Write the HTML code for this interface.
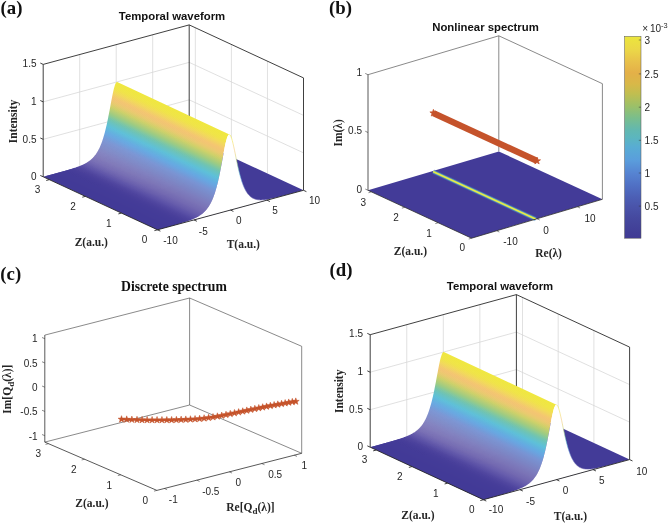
<!DOCTYPE html>
<html><head><meta charset="utf-8"><title>figure</title>
<style>html,body{margin:0;padding:0;background:#fff;}svg{display:block;opacity:0.999;}</style></head>
<body>
<svg width="668" height="523" viewBox="0 0 668 523"><defs><linearGradient id="g1" gradientUnits="userSpaceOnUse" x1="-59.91" y1="128.13" x2="-10.46" y2="22.37"><stop offset="0.0000" stop-color="#423a97"/><stop offset="0.0042" stop-color="#423a97"/><stop offset="0.0084" stop-color="#423a97"/><stop offset="0.0126" stop-color="#423a97"/><stop offset="0.0168" stop-color="#423a97"/><stop offset="0.0209" stop-color="#423a97"/><stop offset="0.0251" stop-color="#423a97"/><stop offset="0.0293" stop-color="#423a97"/><stop offset="0.0335" stop-color="#423a97"/><stop offset="0.0377" stop-color="#423a97"/><stop offset="0.0419" stop-color="#423a97"/><stop offset="0.0461" stop-color="#423a97"/><stop offset="0.0503" stop-color="#423a97"/><stop offset="0.0545" stop-color="#423a97"/><stop offset="0.0587" stop-color="#423a97"/><stop offset="0.0629" stop-color="#423a97"/><stop offset="0.0672" stop-color="#433a97"/><stop offset="0.0714" stop-color="#433a97"/><stop offset="0.0756" stop-color="#433b97"/><stop offset="0.0798" stop-color="#433b97"/><stop offset="0.0840" stop-color="#433b97"/><stop offset="0.0883" stop-color="#433b97"/><stop offset="0.0925" stop-color="#433b98"/><stop offset="0.0967" stop-color="#433b98"/><stop offset="0.1010" stop-color="#433b98"/><stop offset="0.1053" stop-color="#433b98"/><stop offset="0.1095" stop-color="#433b98"/><stop offset="0.1138" stop-color="#443b98"/><stop offset="0.1181" stop-color="#443b98"/><stop offset="0.1224" stop-color="#443c98"/><stop offset="0.1267" stop-color="#443c98"/><stop offset="0.1310" stop-color="#443c98"/><stop offset="0.1353" stop-color="#453c98"/><stop offset="0.1397" stop-color="#453c99"/><stop offset="0.1440" stop-color="#453c99"/><stop offset="0.1484" stop-color="#463d99"/><stop offset="0.1528" stop-color="#463d99"/><stop offset="0.1573" stop-color="#473e99"/><stop offset="0.1617" stop-color="#473e9a"/><stop offset="0.1662" stop-color="#483f9a"/><stop offset="0.1707" stop-color="#493f9b"/><stop offset="0.1753" stop-color="#4a409b"/><stop offset="0.1799" stop-color="#4b419c"/><stop offset="0.1845" stop-color="#4c429c"/><stop offset="0.1892" stop-color="#4d439d"/><stop offset="0.1940" stop-color="#4e449e"/><stop offset="0.1988" stop-color="#4f459f"/><stop offset="0.2036" stop-color="#5147a0"/><stop offset="0.2086" stop-color="#5248a1"/><stop offset="0.2136" stop-color="#544aa2"/><stop offset="0.2187" stop-color="#564ca3"/><stop offset="0.2239" stop-color="#584ea5"/><stop offset="0.2292" stop-color="#5a50a6"/><stop offset="0.2346" stop-color="#5c52a7"/><stop offset="0.2402" stop-color="#5e54a8"/><stop offset="0.2459" stop-color="#6056a9"/><stop offset="0.2517" stop-color="#6258aa"/><stop offset="0.2578" stop-color="#655bab"/><stop offset="0.2640" stop-color="#675dac"/><stop offset="0.2704" stop-color="#695fad"/><stop offset="0.2771" stop-color="#6b61ae"/><stop offset="0.2841" stop-color="#6d63af"/><stop offset="0.2913" stop-color="#6f65b0"/><stop offset="0.2989" stop-color="#7268b1"/><stop offset="0.3068" stop-color="#736ab2"/><stop offset="0.3109" stop-color="#746bb2"/><stop offset="0.3151" stop-color="#756cb3"/><stop offset="0.3194" stop-color="#756db3"/><stop offset="0.3238" stop-color="#766eb4"/><stop offset="0.3284" stop-color="#776fb4"/><stop offset="0.3330" stop-color="#7870b5"/><stop offset="0.3378" stop-color="#7971b5"/><stop offset="0.3427" stop-color="#7a73b6"/><stop offset="0.3478" stop-color="#7a74b7"/><stop offset="0.3530" stop-color="#7b75b7"/><stop offset="0.3584" stop-color="#7b76b8"/><stop offset="0.3640" stop-color="#7b77b9"/><stop offset="0.3697" stop-color="#7c78ba"/><stop offset="0.3756" stop-color="#7c79bb"/><stop offset="0.3817" stop-color="#7c7bbc"/><stop offset="0.3880" stop-color="#7d7cbd"/><stop offset="0.3945" stop-color="#7d7dbe"/><stop offset="0.4012" stop-color="#7d7fbf"/><stop offset="0.4081" stop-color="#7c80c0"/><stop offset="0.4153" stop-color="#7c82c2"/><stop offset="0.4227" stop-color="#7c83c3"/><stop offset="0.4304" stop-color="#7b85c4"/><stop offset="0.4384" stop-color="#7b87c6"/><stop offset="0.4466" stop-color="#7b88c7"/><stop offset="0.4552" stop-color="#7a8ac9"/><stop offset="0.4640" stop-color="#7a8ccb"/><stop offset="0.4731" stop-color="#798ecd"/><stop offset="0.4826" stop-color="#798fcf"/><stop offset="0.4924" stop-color="#7992d1"/><stop offset="0.5026" stop-color="#7894d4"/><stop offset="0.5131" stop-color="#7597d6"/><stop offset="0.5239" stop-color="#719bd9"/><stop offset="0.5352" stop-color="#6e9fdc"/><stop offset="0.5468" stop-color="#6aa3df"/><stop offset="0.5589" stop-color="#67a7e1"/><stop offset="0.5713" stop-color="#64abe1"/><stop offset="0.5841" stop-color="#62b0df"/><stop offset="0.5973" stop-color="#60b5dd"/><stop offset="0.6109" stop-color="#5fbbdb"/><stop offset="0.6250" stop-color="#5ec0d8"/><stop offset="0.6394" stop-color="#62c1ce"/><stop offset="0.6542" stop-color="#67c2c4"/><stop offset="0.6693" stop-color="#6cc3b9"/><stop offset="0.6848" stop-color="#75c5ac"/><stop offset="0.7006" stop-color="#83c89d"/><stop offset="0.7167" stop-color="#93ca8d"/><stop offset="0.7330" stop-color="#a2cc7f"/><stop offset="0.7495" stop-color="#b1cd78"/><stop offset="0.7662" stop-color="#bfcf70"/><stop offset="0.7830" stop-color="#ced16a"/><stop offset="0.7998" stop-color="#dbce6c"/><stop offset="0.8166" stop-color="#e7cb6f"/><stop offset="0.8332" stop-color="#eec871"/><stop offset="0.8496" stop-color="#f2c573"/><stop offset="0.8657" stop-color="#f4c770"/><stop offset="0.8814" stop-color="#f3ce69"/><stop offset="0.8966" stop-color="#f2d561"/><stop offset="0.9111" stop-color="#f2db59"/><stop offset="0.9248" stop-color="#f1df51"/><stop offset="0.9378" stop-color="#f0e34a"/><stop offset="0.9497" stop-color="#f0e547"/><stop offset="0.9606" stop-color="#f0e645"/><stop offset="0.9703" stop-color="#f0e643"/><stop offset="0.9787" stop-color="#f0e742"/><stop offset="0.9858" stop-color="#f0e741"/><stop offset="0.9915" stop-color="#f0e841"/><stop offset="0.9958" stop-color="#f0e840"/><stop offset="1.0000" stop-color="#f0e840"/></linearGradient><linearGradient id="w1" gradientUnits="userSpaceOnUse" x1="-59.91" y1="128.13" x2="-10.46" y2="22.37"><stop offset="0.000" stop-color="#fff" stop-opacity="0.000"/><stop offset="0.010" stop-color="#fff" stop-opacity="0.000"/><stop offset="0.021" stop-color="#fff" stop-opacity="0.000"/><stop offset="0.031" stop-color="#fff" stop-opacity="0.000"/><stop offset="0.042" stop-color="#fff" stop-opacity="0.000"/><stop offset="0.052" stop-color="#fff" stop-opacity="0.000"/><stop offset="0.063" stop-color="#fff" stop-opacity="0.000"/><stop offset="0.073" stop-color="#fff" stop-opacity="0.001"/><stop offset="0.084" stop-color="#fff" stop-opacity="0.001"/><stop offset="0.095" stop-color="#fff" stop-opacity="0.001"/><stop offset="0.105" stop-color="#fff" stop-opacity="0.001"/><stop offset="0.116" stop-color="#fff" stop-opacity="0.002"/><stop offset="0.127" stop-color="#fff" stop-opacity="0.002"/><stop offset="0.138" stop-color="#fff" stop-opacity="0.003"/><stop offset="0.148" stop-color="#fff" stop-opacity="0.004"/><stop offset="0.159" stop-color="#fff" stop-opacity="0.005"/><stop offset="0.171" stop-color="#fff" stop-opacity="0.006"/><stop offset="0.182" stop-color="#fff" stop-opacity="0.008"/><stop offset="0.194" stop-color="#fff" stop-opacity="0.010"/><stop offset="0.206" stop-color="#fff" stop-opacity="0.013"/><stop offset="0.216" stop-color="#fff" stop-opacity="0.017"/><stop offset="0.227" stop-color="#fff" stop-opacity="0.021"/><stop offset="0.237" stop-color="#fff" stop-opacity="0.027"/><stop offset="0.249" stop-color="#fff" stop-opacity="0.034"/><stop offset="0.261" stop-color="#fff" stop-opacity="0.042"/><stop offset="0.274" stop-color="#fff" stop-opacity="0.051"/><stop offset="0.284" stop-color="#fff" stop-opacity="0.059"/><stop offset="0.295" stop-color="#fff" stop-opacity="0.062"/><stop offset="0.307" stop-color="#fff" stop-opacity="0.064"/><stop offset="0.319" stop-color="#fff" stop-opacity="0.067"/><stop offset="0.333" stop-color="#fff" stop-opacity="0.070"/><stop offset="0.348" stop-color="#fff" stop-opacity="0.071"/><stop offset="0.358" stop-color="#fff" stop-opacity="0.070"/><stop offset="0.370" stop-color="#fff" stop-opacity="0.069"/><stop offset="0.382" stop-color="#fff" stop-opacity="0.067"/><stop offset="0.394" stop-color="#fff" stop-opacity="0.065"/><stop offset="0.408" stop-color="#fff" stop-opacity="0.063"/><stop offset="0.423" stop-color="#fff" stop-opacity="0.061"/><stop offset="0.438" stop-color="#fff" stop-opacity="0.058"/><stop offset="0.455" stop-color="#fff" stop-opacity="0.053"/><stop offset="0.473" stop-color="#fff" stop-opacity="0.047"/><stop offset="0.492" stop-color="#fff" stop-opacity="0.041"/><stop offset="0.503" stop-color="#fff" stop-opacity="0.037"/><stop offset="0.513" stop-color="#fff" stop-opacity="0.033"/><stop offset="0.524" stop-color="#fff" stop-opacity="0.030"/><stop offset="0.535" stop-color="#fff" stop-opacity="0.027"/><stop offset="0.547" stop-color="#fff" stop-opacity="0.025"/><stop offset="0.559" stop-color="#fff" stop-opacity="0.022"/><stop offset="0.571" stop-color="#fff" stop-opacity="0.020"/><stop offset="0.584" stop-color="#fff" stop-opacity="0.018"/><stop offset="0.597" stop-color="#fff" stop-opacity="0.016"/><stop offset="0.611" stop-color="#fff" stop-opacity="0.015"/><stop offset="0.625" stop-color="#fff" stop-opacity="0.014"/><stop offset="0.639" stop-color="#fff" stop-opacity="0.013"/><stop offset="0.654" stop-color="#fff" stop-opacity="0.012"/><stop offset="0.669" stop-color="#fff" stop-opacity="0.011"/><stop offset="0.685" stop-color="#fff" stop-opacity="0.010"/><stop offset="0.701" stop-color="#fff" stop-opacity="0.010"/><stop offset="0.717" stop-color="#fff" stop-opacity="0.009"/><stop offset="0.733" stop-color="#fff" stop-opacity="0.008"/><stop offset="0.750" stop-color="#fff" stop-opacity="0.008"/><stop offset="0.766" stop-color="#fff" stop-opacity="0.007"/><stop offset="0.783" stop-color="#fff" stop-opacity="0.006"/><stop offset="0.800" stop-color="#fff" stop-opacity="0.006"/><stop offset="0.817" stop-color="#fff" stop-opacity="0.006"/><stop offset="0.833" stop-color="#fff" stop-opacity="0.006"/><stop offset="0.850" stop-color="#fff" stop-opacity="0.006"/><stop offset="0.866" stop-color="#fff" stop-opacity="0.006"/><stop offset="0.881" stop-color="#fff" stop-opacity="0.006"/><stop offset="0.897" stop-color="#fff" stop-opacity="0.006"/><stop offset="0.911" stop-color="#fff" stop-opacity="0.006"/><stop offset="0.925" stop-color="#fff" stop-opacity="0.006"/><stop offset="0.938" stop-color="#fff" stop-opacity="0.006"/><stop offset="0.950" stop-color="#fff" stop-opacity="0.006"/><stop offset="0.961" stop-color="#fff" stop-opacity="0.006"/><stop offset="0.979" stop-color="#fff" stop-opacity="0.006"/><stop offset="0.992" stop-color="#fff" stop-opacity="0.006"/><stop offset="1.000" stop-color="#fff" stop-opacity="0.006"/></linearGradient><linearGradient id="mz1" gradientUnits="userSpaceOnUse" x1="150.71" y1="204.72" x2="134.01" y2="142.99"><stop offset="0" stop-color="#000"/><stop offset="1" stop-color="#fff"/></linearGradient><mask id="mk1" maskUnits="userSpaceOnUse" x="0" y="0" width="668" height="523"><rect x="0" y="0" width="668" height="523" fill="url(#mz1)"/></mask><linearGradient id="g2" gradientUnits="userSpaceOnUse" x1="-105.02" y1="224.82" x2="-55.52" y2="118.85"><stop offset="0.0000" stop-color="#423a97"/><stop offset="0.0042" stop-color="#423a97"/><stop offset="0.0084" stop-color="#423a97"/><stop offset="0.0126" stop-color="#423a97"/><stop offset="0.0168" stop-color="#423a97"/><stop offset="0.0210" stop-color="#423a97"/><stop offset="0.0252" stop-color="#423a97"/><stop offset="0.0294" stop-color="#423a97"/><stop offset="0.0337" stop-color="#423a97"/><stop offset="0.0379" stop-color="#423a97"/><stop offset="0.0421" stop-color="#423a97"/><stop offset="0.0463" stop-color="#423a97"/><stop offset="0.0505" stop-color="#423a97"/><stop offset="0.0547" stop-color="#423a97"/><stop offset="0.0589" stop-color="#423a97"/><stop offset="0.0632" stop-color="#423a97"/><stop offset="0.0674" stop-color="#423a97"/><stop offset="0.0716" stop-color="#433a97"/><stop offset="0.0758" stop-color="#433a97"/><stop offset="0.0801" stop-color="#433a97"/><stop offset="0.0843" stop-color="#433b97"/><stop offset="0.0886" stop-color="#433b97"/><stop offset="0.0928" stop-color="#433b97"/><stop offset="0.0971" stop-color="#433b97"/><stop offset="0.1013" stop-color="#433b98"/><stop offset="0.1056" stop-color="#433b98"/><stop offset="0.1098" stop-color="#433b98"/><stop offset="0.1141" stop-color="#433b98"/><stop offset="0.1184" stop-color="#443b98"/><stop offset="0.1227" stop-color="#443b98"/><stop offset="0.1270" stop-color="#443b98"/><stop offset="0.1313" stop-color="#443c98"/><stop offset="0.1356" stop-color="#443c98"/><stop offset="0.1400" stop-color="#453c98"/><stop offset="0.1443" stop-color="#453c98"/><stop offset="0.1487" stop-color="#453c99"/><stop offset="0.1531" stop-color="#453d99"/><stop offset="0.1575" stop-color="#463d99"/><stop offset="0.1620" stop-color="#463d99"/><stop offset="0.1664" stop-color="#473e9a"/><stop offset="0.1709" stop-color="#483e9a"/><stop offset="0.1754" stop-color="#483f9a"/><stop offset="0.1800" stop-color="#49409b"/><stop offset="0.1846" stop-color="#4a419c"/><stop offset="0.1892" stop-color="#4b419c"/><stop offset="0.1939" stop-color="#4c429d"/><stop offset="0.1986" stop-color="#4d439e"/><stop offset="0.2034" stop-color="#4f459e"/><stop offset="0.2082" stop-color="#50469f"/><stop offset="0.2131" stop-color="#5147a0"/><stop offset="0.2181" stop-color="#5349a1"/><stop offset="0.2231" stop-color="#554ba3"/><stop offset="0.2283" stop-color="#574da4"/><stop offset="0.2336" stop-color="#594fa5"/><stop offset="0.2389" stop-color="#5b51a6"/><stop offset="0.2444" stop-color="#5d53a7"/><stop offset="0.2500" stop-color="#5f55a8"/><stop offset="0.2558" stop-color="#6157a9"/><stop offset="0.2618" stop-color="#6359ab"/><stop offset="0.2679" stop-color="#665cac"/><stop offset="0.2742" stop-color="#685ead"/><stop offset="0.2807" stop-color="#6a60ae"/><stop offset="0.2875" stop-color="#6c62ae"/><stop offset="0.2946" stop-color="#6e64af"/><stop offset="0.3020" stop-color="#7167b0"/><stop offset="0.3097" stop-color="#7369b1"/><stop offset="0.3177" stop-color="#746bb2"/><stop offset="0.3219" stop-color="#756cb3"/><stop offset="0.3262" stop-color="#756db3"/><stop offset="0.3306" stop-color="#766eb4"/><stop offset="0.3351" stop-color="#776fb4"/><stop offset="0.3398" stop-color="#7870b5"/><stop offset="0.3445" stop-color="#7971b5"/><stop offset="0.3494" stop-color="#7a73b6"/><stop offset="0.3545" stop-color="#7a74b7"/><stop offset="0.3597" stop-color="#7b75b7"/><stop offset="0.3650" stop-color="#7b76b8"/><stop offset="0.3705" stop-color="#7b77b9"/><stop offset="0.3762" stop-color="#7c78ba"/><stop offset="0.3821" stop-color="#7c79bb"/><stop offset="0.3881" stop-color="#7c7bbc"/><stop offset="0.3943" stop-color="#7d7cbd"/><stop offset="0.4008" stop-color="#7d7dbe"/><stop offset="0.4074" stop-color="#7d7fbf"/><stop offset="0.4143" stop-color="#7c80c0"/><stop offset="0.4215" stop-color="#7c82c2"/><stop offset="0.4288" stop-color="#7c83c3"/><stop offset="0.4364" stop-color="#7b85c4"/><stop offset="0.4443" stop-color="#7b87c6"/><stop offset="0.4525" stop-color="#7b88c7"/><stop offset="0.4609" stop-color="#7a8ac9"/><stop offset="0.4697" stop-color="#7a8ccb"/><stop offset="0.4787" stop-color="#798ecd"/><stop offset="0.4881" stop-color="#798fcf"/><stop offset="0.4978" stop-color="#7992d1"/><stop offset="0.5079" stop-color="#7894d4"/><stop offset="0.5183" stop-color="#7597d6"/><stop offset="0.5291" stop-color="#719bd9"/><stop offset="0.5402" stop-color="#6e9fdc"/><stop offset="0.5517" stop-color="#6aa3df"/><stop offset="0.5636" stop-color="#67a7e1"/><stop offset="0.5759" stop-color="#64abe1"/><stop offset="0.5886" stop-color="#62b0df"/><stop offset="0.6017" stop-color="#60b5dd"/><stop offset="0.6151" stop-color="#5fbbdb"/><stop offset="0.6290" stop-color="#5ec0d8"/><stop offset="0.6432" stop-color="#62c1ce"/><stop offset="0.6579" stop-color="#67c2c4"/><stop offset="0.6728" stop-color="#6cc3b9"/><stop offset="0.6881" stop-color="#75c5ac"/><stop offset="0.7038" stop-color="#83c89d"/><stop offset="0.7197" stop-color="#93ca8d"/><stop offset="0.7358" stop-color="#a2cc7f"/><stop offset="0.7522" stop-color="#b1cd78"/><stop offset="0.7687" stop-color="#bfcf70"/><stop offset="0.7853" stop-color="#ced16a"/><stop offset="0.8019" stop-color="#dbce6c"/><stop offset="0.8185" stop-color="#e7cb6f"/><stop offset="0.8349" stop-color="#eec871"/><stop offset="0.8511" stop-color="#f2c573"/><stop offset="0.8670" stop-color="#f4c770"/><stop offset="0.8825" stop-color="#f3ce69"/><stop offset="0.8975" stop-color="#f2d561"/><stop offset="0.9119" stop-color="#f2db59"/><stop offset="0.9255" stop-color="#f1df51"/><stop offset="0.9383" stop-color="#f0e34a"/><stop offset="0.9501" stop-color="#f0e547"/><stop offset="0.9608" stop-color="#f0e645"/><stop offset="0.9704" stop-color="#f0e643"/><stop offset="0.9788" stop-color="#f0e742"/><stop offset="0.9859" stop-color="#f0e741"/><stop offset="0.9915" stop-color="#f0e841"/><stop offset="0.9958" stop-color="#f0e840"/><stop offset="1.0000" stop-color="#f0e840"/></linearGradient><linearGradient id="w2" gradientUnits="userSpaceOnUse" x1="-105.02" y1="224.82" x2="-55.52" y2="118.85"><stop offset="0.000" stop-color="#fff" stop-opacity="0.000"/><stop offset="0.011" stop-color="#fff" stop-opacity="0.000"/><stop offset="0.021" stop-color="#fff" stop-opacity="0.000"/><stop offset="0.032" stop-color="#fff" stop-opacity="0.000"/><stop offset="0.042" stop-color="#fff" stop-opacity="0.000"/><stop offset="0.053" stop-color="#fff" stop-opacity="0.000"/><stop offset="0.063" stop-color="#fff" stop-opacity="0.000"/><stop offset="0.074" stop-color="#fff" stop-opacity="0.001"/><stop offset="0.084" stop-color="#fff" stop-opacity="0.001"/><stop offset="0.095" stop-color="#fff" stop-opacity="0.001"/><stop offset="0.106" stop-color="#fff" stop-opacity="0.001"/><stop offset="0.116" stop-color="#fff" stop-opacity="0.001"/><stop offset="0.127" stop-color="#fff" stop-opacity="0.002"/><stop offset="0.138" stop-color="#fff" stop-opacity="0.002"/><stop offset="0.149" stop-color="#fff" stop-opacity="0.003"/><stop offset="0.160" stop-color="#fff" stop-opacity="0.004"/><stop offset="0.171" stop-color="#fff" stop-opacity="0.005"/><stop offset="0.182" stop-color="#fff" stop-opacity="0.007"/><stop offset="0.194" stop-color="#fff" stop-opacity="0.009"/><stop offset="0.206" stop-color="#fff" stop-opacity="0.011"/><stop offset="0.218" stop-color="#fff" stop-opacity="0.015"/><stop offset="0.228" stop-color="#fff" stop-opacity="0.019"/><stop offset="0.239" stop-color="#fff" stop-opacity="0.024"/><stop offset="0.250" stop-color="#fff" stop-opacity="0.030"/><stop offset="0.262" stop-color="#fff" stop-opacity="0.038"/><stop offset="0.274" stop-color="#fff" stop-opacity="0.046"/><stop offset="0.288" stop-color="#fff" stop-opacity="0.056"/><stop offset="0.298" stop-color="#fff" stop-opacity="0.061"/><stop offset="0.310" stop-color="#fff" stop-opacity="0.063"/><stop offset="0.322" stop-color="#fff" stop-opacity="0.066"/><stop offset="0.335" stop-color="#fff" stop-opacity="0.069"/><stop offset="0.349" stop-color="#fff" stop-opacity="0.072"/><stop offset="0.360" stop-color="#fff" stop-opacity="0.071"/><stop offset="0.371" stop-color="#fff" stop-opacity="0.069"/><stop offset="0.382" stop-color="#fff" stop-opacity="0.068"/><stop offset="0.394" stop-color="#fff" stop-opacity="0.066"/><stop offset="0.407" stop-color="#fff" stop-opacity="0.064"/><stop offset="0.421" stop-color="#fff" stop-opacity="0.062"/><stop offset="0.436" stop-color="#fff" stop-opacity="0.060"/><stop offset="0.452" stop-color="#fff" stop-opacity="0.055"/><stop offset="0.470" stop-color="#fff" stop-opacity="0.050"/><stop offset="0.488" stop-color="#fff" stop-opacity="0.044"/><stop offset="0.508" stop-color="#fff" stop-opacity="0.037"/><stop offset="0.518" stop-color="#fff" stop-opacity="0.033"/><stop offset="0.529" stop-color="#fff" stop-opacity="0.030"/><stop offset="0.540" stop-color="#fff" stop-opacity="0.027"/><stop offset="0.552" stop-color="#fff" stop-opacity="0.025"/><stop offset="0.564" stop-color="#fff" stop-opacity="0.022"/><stop offset="0.576" stop-color="#fff" stop-opacity="0.020"/><stop offset="0.589" stop-color="#fff" stop-opacity="0.018"/><stop offset="0.602" stop-color="#fff" stop-opacity="0.016"/><stop offset="0.615" stop-color="#fff" stop-opacity="0.015"/><stop offset="0.629" stop-color="#fff" stop-opacity="0.014"/><stop offset="0.643" stop-color="#fff" stop-opacity="0.013"/><stop offset="0.658" stop-color="#fff" stop-opacity="0.012"/><stop offset="0.673" stop-color="#fff" stop-opacity="0.011"/><stop offset="0.688" stop-color="#fff" stop-opacity="0.010"/><stop offset="0.704" stop-color="#fff" stop-opacity="0.010"/><stop offset="0.720" stop-color="#fff" stop-opacity="0.009"/><stop offset="0.736" stop-color="#fff" stop-opacity="0.008"/><stop offset="0.752" stop-color="#fff" stop-opacity="0.008"/><stop offset="0.769" stop-color="#fff" stop-opacity="0.007"/><stop offset="0.785" stop-color="#fff" stop-opacity="0.006"/><stop offset="0.802" stop-color="#fff" stop-opacity="0.006"/><stop offset="0.818" stop-color="#fff" stop-opacity="0.006"/><stop offset="0.835" stop-color="#fff" stop-opacity="0.006"/><stop offset="0.851" stop-color="#fff" stop-opacity="0.006"/><stop offset="0.867" stop-color="#fff" stop-opacity="0.006"/><stop offset="0.883" stop-color="#fff" stop-opacity="0.006"/><stop offset="0.898" stop-color="#fff" stop-opacity="0.006"/><stop offset="0.912" stop-color="#fff" stop-opacity="0.006"/><stop offset="0.925" stop-color="#fff" stop-opacity="0.006"/><stop offset="0.938" stop-color="#fff" stop-opacity="0.006"/><stop offset="0.950" stop-color="#fff" stop-opacity="0.006"/><stop offset="0.961" stop-color="#fff" stop-opacity="0.006"/><stop offset="0.979" stop-color="#fff" stop-opacity="0.006"/><stop offset="0.992" stop-color="#fff" stop-opacity="0.006"/><stop offset="1.000" stop-color="#fff" stop-opacity="0.006"/></linearGradient><linearGradient id="mz2" gradientUnits="userSpaceOnUse" x1="476.49" y1="474.52" x2="459.44" y2="412.35"><stop offset="0" stop-color="#000"/><stop offset="1" stop-color="#fff"/></linearGradient><mask id="mk2" maskUnits="userSpaceOnUse" x="0" y="0" width="668" height="523"><rect x="0" y="0" width="668" height="523" fill="url(#mz2)"/></mask><linearGradient id="cb" x1="0" y1="0" x2="0" y2="1"><stop offset="0.000" stop-color="#ece63c"/><stop offset="0.070" stop-color="#ebd648"/><stop offset="0.127" stop-color="#e8c04a"/><stop offset="0.180" stop-color="#e4b048"/><stop offset="0.236" stop-color="#d8b848"/><stop offset="0.285" stop-color="#c0be50"/><stop offset="0.345" stop-color="#9cc068"/><stop offset="0.404" stop-color="#7abe8c"/><stop offset="0.464" stop-color="#62b8b0"/><stop offset="0.500" stop-color="#5cb6be"/><stop offset="0.550" stop-color="#58acd4"/><stop offset="0.612" stop-color="#5a9edc"/><stop offset="0.677" stop-color="#5684d2"/><stop offset="0.739" stop-color="#5070c4"/><stop offset="0.800" stop-color="#4c5eb4"/><stop offset="0.843" stop-color="#4a54aa"/><stop offset="0.905" stop-color="#45489e"/><stop offset="0.970" stop-color="#413e96"/><stop offset="1.000" stop-color="#403a94"/></linearGradient></defs><rect x="0" y="0" width="668" height="523" fill="#ffffff"/>
<line x1="79.7" y1="166.93" x2="79.7" y2="54.53" stroke="#d6d6d6" stroke-width="0.75"/>
<line x1="116.2" y1="157.05" x2="116.2" y2="44.65" stroke="#d6d6d6" stroke-width="0.75"/>
<line x1="152.7" y1="147.18" x2="152.7" y2="34.78" stroke="#d6d6d6" stroke-width="0.75"/>
<line x1="267.44" y1="173.58" x2="267.44" y2="61.18" stroke="#d6d6d6" stroke-width="0.75"/>
<line x1="231.39" y1="156.86" x2="231.39" y2="44.46" stroke="#d6d6d6" stroke-width="0.75"/>
<line x1="195.33" y1="140.14" x2="195.33" y2="27.74" stroke="#d6d6d6" stroke-width="0.75"/>
<polyline points="43.2,139.33 189.2,99.83 303.5,152.83" fill="none" stroke="#d6d6d6" stroke-width="0.75"/>
<polyline points="43.2,101.87 189.2,62.37 303.5,115.37" fill="none" stroke="#d6d6d6" stroke-width="0.75"/>
<line x1="189.2" y1="137.3" x2="189.2" y2="24.9" stroke="#2a2a2a" stroke-width="0.9"/>
<line x1="43.2" y1="64.4" x2="189.2" y2="24.9" stroke="#2a2a2a" stroke-width="0.9"/>
<line x1="189.2" y1="24.9" x2="303.5" y2="77.9" stroke="#2a2a2a" stroke-width="0.9"/>
<line x1="303.5" y1="190.3" x2="303.5" y2="77.9" stroke="#2a2a2a" stroke-width="0.9"/>
<polygon points="43.2,176.8 157.5,229.8 303.5,190.3 189.2,137.3" fill="#433b98"/>
<polygon points="157.5,229.79 157.87,229.69 158.23,229.59 158.59,229.49 158.96,229.39 159.32,229.3 159.69,229.2 160.06,229.1 160.42,229 160.78,228.9 161.15,228.8 161.52,228.7 161.88,228.6 162.25,228.5 162.61,228.4 162.97,228.3 163.34,228.2 163.7,228.1 164.07,228 164.44,227.9 164.8,227.8 165.16,227.7 165.53,227.6 165.9,227.5 166.26,227.4 166.62,227.3 166.99,227.2 167.35,227.1 167.72,227 168.09,226.9 168.45,226.8 168.81,226.7 169.18,226.6 169.55,226.5 169.91,226.4 170.28,226.3 170.64,226.19 171,226.09 171.37,225.99 171.73,225.89 172.1,225.79 172.47,225.69 172.83,225.58 173.19,225.48 173.56,225.38 173.92,225.28 174.29,225.17 174.66,225.07 175.02,224.97 175.38,224.86 175.75,224.76 176.11,224.66 176.48,224.55 176.84,224.45 177.21,224.34 177.57,224.24 177.94,224.13 178.3,224.03 178.67,223.92 179.03,223.81 179.4,223.71 179.76,223.6 180.13,223.49 180.5,223.38 180.86,223.27 181.22,223.16 181.59,223.05 181.95,222.94 182.32,222.83 182.69,222.72 183.05,222.61 183.41,222.5 183.78,222.38 184.14,222.27 184.51,222.15 184.88,222.04 185.24,221.92 185.6,221.8 185.97,221.68 186.33,221.56 186.7,221.44 187.06,221.32 187.43,221.19 187.79,221.07 188.16,220.94 188.53,220.82 188.89,220.69 189.25,220.56 189.62,220.42 189.99,220.29 190.35,220.15 190.72,220.02 191.08,219.88 191.44,219.74 191.81,219.59 192.18,219.45 192.54,219.3 192.91,219.15 193.27,218.99 193.63,218.84 194,218.68 194.37,218.51 194.73,218.35 195.09,218.18 195.46,218 195.82,217.83 196.19,217.65 196.56,217.46 196.92,217.27 197.28,217.08 197.65,216.88 198.01,216.67 198.38,216.46 198.75,216.25 199.11,216.03 199.47,215.8 199.84,215.57 200.2,215.32 200.57,215.08 200.94,214.82 201.3,214.56 201.66,214.28 202.03,214 202.39,213.71 202.76,213.41 203.12,213.1 203.49,212.78 203.85,212.44 204.22,212.1 204.58,211.74 204.95,211.37 205.31,210.99 205.68,210.59 206.04,210.17 206.41,209.74 206.78,209.3 207.14,208.83 207.5,208.35 207.87,207.84 208.24,207.32 208.6,206.78 208.96,206.21 209.33,205.62 209.69,205.01 210.06,204.37 210.42,203.7 210.79,203 211.16,202.28 211.52,201.53 211.88,200.74 212.25,199.92 212.62,199.06 212.98,198.17 213.34,197.24 213.71,196.28 214.07,195.27 214.44,194.22 214.81,193.13 215.17,191.99 215.53,190.8 215.9,189.57 216.26,188.29 216.63,186.96 217,185.58 217.36,184.15 217.72,182.67 218.09,181.14 218.45,179.55 218.82,177.92 219.19,176.23 219.55,174.5 219.92,172.72 220.28,170.89 220.64,169.03 221.01,167.12 221.38,165.19 221.74,163.23 222.11,161.25 222.47,159.25 222.83,157.26 223.2,155.27 223.56,153.3 223.93,151.35 224.3,149.45 224.66,147.6 225.03,145.82 225.39,144.12 225.75,142.51 226.12,141.02 226.49,139.65 226.85,138.42 227.22,137.34 227.58,136.43 227.94,135.68 228.31,135.11 228.68,134.73 229.04,134.54 229.41,134.53 117.22,82.1 116.86,82.1 116.49,82.3 116.13,82.67 115.76,83.23 115.4,83.97 115.03,84.87 114.67,85.94 114.3,87.15 113.94,88.5 113.57,89.97 113.21,91.55 112.84,93.23 112.48,94.99 112.11,96.81 111.75,98.69 111.38,100.6 111.02,102.55 110.65,104.51 110.29,106.48 109.92,108.44 109.56,110.39 109.19,112.33 108.83,114.23 108.46,116.11 108.1,117.95 107.73,119.75 107.37,121.5 107,123.21 106.64,124.88 106.27,126.49 105.91,128.05 105.54,129.56 105.18,131.02 104.81,132.43 104.45,133.79 104.08,135.1 103.72,136.37 103.35,137.58 102.99,138.75 102.62,139.87 102.26,140.95 101.89,141.98 101.53,142.98 101.16,143.93 100.8,144.85 100.43,145.73 100.07,146.57 99.7,147.38 99.34,148.16 98.97,148.9 98.61,149.62 98.24,150.3 97.88,150.96 97.51,151.59 97.15,152.2 96.78,152.78 96.42,153.34 96.05,153.88 95.69,154.4 95.32,154.89 94.96,155.37 94.59,155.83 94.23,156.27 93.86,156.7 93.5,157.11 93.13,157.5 92.77,157.88 92.4,158.25 92.04,158.6 91.67,158.94 91.31,159.27 90.94,159.59 90.58,159.9 90.21,160.2 89.85,160.48 89.48,160.76 89.12,161.03 88.75,161.3 88.39,161.55 88.02,161.8 87.66,162.03 87.29,162.27 86.93,162.49 86.56,162.71 86.2,162.93 85.83,163.13 85.47,163.34 85.1,163.53 84.74,163.73 84.37,163.91 84.01,164.1 83.64,164.28 83.28,164.45 82.91,164.63 82.55,164.79 82.18,164.96 81.82,165.12 81.45,165.28 81.09,165.44 80.72,165.59 80.36,165.74 79.99,165.89 79.63,166.03 79.26,166.18 78.9,166.32 78.53,166.46 78.17,166.59 77.8,166.73 77.44,166.86 77.07,166.99 76.71,167.12 76.34,167.25 75.98,167.38 75.61,167.51 75.25,167.63 74.88,167.75 74.52,167.87 74.15,168 73.79,168.12 73.42,168.23 73.06,168.35 72.69,168.47 72.33,168.58 71.96,168.7 71.6,168.81 71.23,168.93 70.87,169.04 70.5,169.15 70.14,169.26 69.77,169.37 69.41,169.48 69.04,169.59 68.68,169.7 68.31,169.81 67.95,169.92 67.58,170.03 67.22,170.14 66.85,170.24 66.49,170.35 66.12,170.46 65.76,170.56 65.39,170.67 65.03,170.77 64.66,170.88 64.3,170.98 63.93,171.08 63.57,171.19 63.2,171.29 62.84,171.4 62.47,171.5 62.11,171.6 61.74,171.7 61.38,171.81 61.01,171.91 60.65,172.01 60.28,172.11 59.92,172.22 59.55,172.32 59.19,172.42 58.82,172.52 58.46,172.62 58.09,172.72 57.73,172.82 57.36,172.93 57,173.03 56.63,173.13 56.27,173.23 55.9,173.33 55.54,173.43 55.17,173.53 54.81,173.63 54.44,173.73 54.08,173.83 53.71,173.93 53.35,174.03 52.98,174.13 52.62,174.23 52.25,174.33 51.89,174.43 51.52,174.53 51.16,174.63 50.79,174.73 50.43,174.83 50.06,174.93 49.7,175.03 49.33,175.13 48.97,175.23 48.6,175.33 48.24,175.42 47.87,175.52 47.51,175.62 47.14,175.72 46.78,175.82 46.41,175.92 46.05,176.02 45.68,176.12 45.32,176.22" fill="url(#g1)"/>
<polygon points="157.5,229.79 157.87,229.69 158.23,229.59 158.59,229.49 158.96,229.39 159.32,229.3 159.69,229.2 160.06,229.1 160.42,229 160.78,228.9 161.15,228.8 161.52,228.7 161.88,228.6 162.25,228.5 162.61,228.4 162.97,228.3 163.34,228.2 163.7,228.1 164.07,228 164.44,227.9 164.8,227.8 165.16,227.7 165.53,227.6 165.9,227.5 166.26,227.4 166.62,227.3 166.99,227.2 167.35,227.1 167.72,227 168.09,226.9 168.45,226.8 168.81,226.7 169.18,226.6 169.55,226.5 169.91,226.4 170.28,226.3 170.64,226.19 171,226.09 171.37,225.99 171.73,225.89 172.1,225.79 172.47,225.69 172.83,225.58 173.19,225.48 173.56,225.38 173.92,225.28 174.29,225.17 174.66,225.07 175.02,224.97 175.38,224.86 175.75,224.76 176.11,224.66 176.48,224.55 176.84,224.45 177.21,224.34 177.57,224.24 177.94,224.13 178.3,224.03 178.67,223.92 179.03,223.81 179.4,223.71 179.76,223.6 180.13,223.49 180.5,223.38 180.86,223.27 181.22,223.16 181.59,223.05 181.95,222.94 182.32,222.83 182.69,222.72 183.05,222.61 183.41,222.5 183.78,222.38 184.14,222.27 184.51,222.15 184.88,222.04 185.24,221.92 185.6,221.8 185.97,221.68 186.33,221.56 186.7,221.44 187.06,221.32 187.43,221.19 187.79,221.07 188.16,220.94 188.53,220.82 188.89,220.69 189.25,220.56 189.62,220.42 189.99,220.29 190.35,220.15 190.72,220.02 191.08,219.88 191.44,219.74 191.81,219.59 192.18,219.45 192.54,219.3 192.91,219.15 193.27,218.99 193.63,218.84 194,218.68 194.37,218.51 194.73,218.35 195.09,218.18 195.46,218 195.82,217.83 196.19,217.65 196.56,217.46 196.92,217.27 197.28,217.08 197.65,216.88 198.01,216.67 198.38,216.46 198.75,216.25 199.11,216.03 199.47,215.8 199.84,215.57 200.2,215.32 200.57,215.08 200.94,214.82 201.3,214.56 201.66,214.28 202.03,214 202.39,213.71 202.76,213.41 203.12,213.1 203.49,212.78 203.85,212.44 204.22,212.1 204.58,211.74 204.95,211.37 205.31,210.99 205.68,210.59 206.04,210.17 206.41,209.74 206.78,209.3 207.14,208.83 207.5,208.35 207.87,207.84 208.24,207.32 208.6,206.78 208.96,206.21 209.33,205.62 209.69,205.01 210.06,204.37 210.42,203.7 210.79,203 211.16,202.28 211.52,201.53 211.88,200.74 212.25,199.92 212.62,199.06 212.98,198.17 213.34,197.24 213.71,196.28 214.07,195.27 214.44,194.22 214.81,193.13 215.17,191.99 215.53,190.8 215.9,189.57 216.26,188.29 216.63,186.96 217,185.58 217.36,184.15 217.72,182.67 218.09,181.14 218.45,179.55 218.82,177.92 219.19,176.23 219.55,174.5 219.92,172.72 220.28,170.89 220.64,169.03 221.01,167.12 221.38,165.19 221.74,163.23 222.11,161.25 222.47,159.25 222.83,157.26 223.2,155.27 223.56,153.3 223.93,151.35 224.3,149.45 224.66,147.6 225.03,145.82 225.39,144.12 225.75,142.51 226.12,141.02 226.49,139.65 226.85,138.42 227.22,137.34 227.58,136.43 227.94,135.68 228.31,135.11 228.68,134.73 229.04,134.54 229.41,134.53 117.22,82.1 116.86,82.1 116.49,82.3 116.13,82.67 115.76,83.23 115.4,83.97 115.03,84.87 114.67,85.94 114.3,87.15 113.94,88.5 113.57,89.97 113.21,91.55 112.84,93.23 112.48,94.99 112.11,96.81 111.75,98.69 111.38,100.6 111.02,102.55 110.65,104.51 110.29,106.48 109.92,108.44 109.56,110.39 109.19,112.33 108.83,114.23 108.46,116.11 108.1,117.95 107.73,119.75 107.37,121.5 107,123.21 106.64,124.88 106.27,126.49 105.91,128.05 105.54,129.56 105.18,131.02 104.81,132.43 104.45,133.79 104.08,135.1 103.72,136.37 103.35,137.58 102.99,138.75 102.62,139.87 102.26,140.95 101.89,141.98 101.53,142.98 101.16,143.93 100.8,144.85 100.43,145.73 100.07,146.57 99.7,147.38 99.34,148.16 98.97,148.9 98.61,149.62 98.24,150.3 97.88,150.96 97.51,151.59 97.15,152.2 96.78,152.78 96.42,153.34 96.05,153.88 95.69,154.4 95.32,154.89 94.96,155.37 94.59,155.83 94.23,156.27 93.86,156.7 93.5,157.11 93.13,157.5 92.77,157.88 92.4,158.25 92.04,158.6 91.67,158.94 91.31,159.27 90.94,159.59 90.58,159.9 90.21,160.2 89.85,160.48 89.48,160.76 89.12,161.03 88.75,161.3 88.39,161.55 88.02,161.8 87.66,162.03 87.29,162.27 86.93,162.49 86.56,162.71 86.2,162.93 85.83,163.13 85.47,163.34 85.1,163.53 84.74,163.73 84.37,163.91 84.01,164.1 83.64,164.28 83.28,164.45 82.91,164.63 82.55,164.79 82.18,164.96 81.82,165.12 81.45,165.28 81.09,165.44 80.72,165.59 80.36,165.74 79.99,165.89 79.63,166.03 79.26,166.18 78.9,166.32 78.53,166.46 78.17,166.59 77.8,166.73 77.44,166.86 77.07,166.99 76.71,167.12 76.34,167.25 75.98,167.38 75.61,167.51 75.25,167.63 74.88,167.75 74.52,167.87 74.15,168 73.79,168.12 73.42,168.23 73.06,168.35 72.69,168.47 72.33,168.58 71.96,168.7 71.6,168.81 71.23,168.93 70.87,169.04 70.5,169.15 70.14,169.26 69.77,169.37 69.41,169.48 69.04,169.59 68.68,169.7 68.31,169.81 67.95,169.92 67.58,170.03 67.22,170.14 66.85,170.24 66.49,170.35 66.12,170.46 65.76,170.56 65.39,170.67 65.03,170.77 64.66,170.88 64.3,170.98 63.93,171.08 63.57,171.19 63.2,171.29 62.84,171.4 62.47,171.5 62.11,171.6 61.74,171.7 61.38,171.81 61.01,171.91 60.65,172.01 60.28,172.11 59.92,172.22 59.55,172.32 59.19,172.42 58.82,172.52 58.46,172.62 58.09,172.72 57.73,172.82 57.36,172.93 57,173.03 56.63,173.13 56.27,173.23 55.9,173.33 55.54,173.43 55.17,173.53 54.81,173.63 54.44,173.73 54.08,173.83 53.71,173.93 53.35,174.03 52.98,174.13 52.62,174.23 52.25,174.33 51.89,174.43 51.52,174.53 51.16,174.63 50.79,174.73 50.43,174.83 50.06,174.93 49.7,175.03 49.33,175.13 48.97,175.23 48.6,175.33 48.24,175.42 47.87,175.52 47.51,175.62 47.14,175.72 46.78,175.82 46.41,175.92 46.05,176.02 45.68,176.12 45.32,176.22" fill="url(#w1)" mask="url(#mk1)"/>
<polygon points="157.5,229.79 157.87,229.69 158.23,229.59 158.59,229.49 158.96,229.39 159.32,229.3 159.69,229.2 160.06,229.1 160.42,229 160.78,228.9 161.15,228.8 161.52,228.7 161.88,228.6 162.25,228.5 162.61,228.4 162.97,228.3 163.34,228.2 163.7,228.1 164.07,228 164.44,227.9 164.8,227.8 165.16,227.7 165.53,227.6 165.9,227.5 166.26,227.4 166.62,227.3 166.99,227.2 167.35,227.1 167.72,227 168.09,226.9 168.45,226.8 168.81,226.7 169.18,226.6 169.55,226.5 169.91,226.4 170.28,226.3 170.64,226.19 171,226.09 171.37,225.99 171.73,225.89 172.1,225.79 172.47,225.69 172.83,225.58 173.19,225.48 173.56,225.38 173.92,225.28 174.29,225.17 174.66,225.07 175.02,224.97 175.38,224.86 175.75,224.76 176.11,224.66 176.48,224.55 176.84,224.45 177.21,224.34 177.57,224.24 177.94,224.13 178.3,224.03 178.67,223.92 179.03,223.81 179.4,223.71 179.76,223.6 180.13,223.49 180.5,223.38 180.86,223.27 181.22,223.16 181.59,223.05 181.95,222.94 182.32,222.83 182.69,222.72 183.05,222.61 183.41,222.5 183.78,222.38 184.14,222.27 184.51,222.15 184.88,222.04 185.24,221.92 185.6,221.8 185.97,221.68 186.33,221.56 186.7,221.44 187.06,221.32 187.43,221.19 187.79,221.07 188.16,220.94 188.53,220.82 188.89,220.69 189.25,220.56 189.62,220.42 189.99,220.29 190.35,220.15 190.72,220.02 191.08,219.88 191.44,219.74 191.81,219.59 192.18,219.45 192.54,219.3 192.91,219.15 193.27,218.99 193.63,218.84 194,218.68 194.37,218.51 194.73,218.35 195.09,218.18 195.46,218 195.82,217.83 196.19,217.65 196.56,217.46 196.92,217.27 197.28,217.08 197.65,216.88 198.01,216.67 198.38,216.46 198.75,216.25 199.11,216.03 199.47,215.8 199.84,215.57 200.2,215.32 200.57,215.08 200.94,214.82 201.3,214.56 201.66,214.28 202.03,214 202.39,213.71 202.76,213.41 203.12,213.1 203.49,212.78 203.85,212.44 204.22,212.1 204.58,211.74 204.95,211.37 205.31,210.99 205.68,210.59 206.04,210.17 206.41,209.74 206.78,209.3 207.14,208.83 207.5,208.35 207.87,207.84 208.24,207.32 208.6,206.78 208.96,206.21 209.33,205.62 209.69,205.01 210.06,204.37 210.42,203.7 210.79,203 211.16,202.28 211.52,201.53 211.88,200.74 212.25,199.92 212.62,199.06 212.98,198.17 213.34,197.24 213.71,196.28 214.07,195.27 214.44,194.22 214.81,193.13 215.17,191.99 215.53,190.8 215.9,189.57 216.26,188.29 216.63,186.96 217,185.58 217.36,184.15 217.72,182.67 218.09,181.14 218.45,179.55 218.82,177.92 219.19,176.23 219.55,174.5 219.92,172.72 220.28,170.89 220.64,169.03 221.01,167.12 221.38,165.19 221.74,163.23 222.11,161.25 222.47,159.25 222.83,157.26 223.2,155.27 223.56,153.3 223.93,151.35 224.3,149.45 224.66,147.6 225.03,145.82 225.39,144.12 225.75,142.51 226.12,141.02 226.49,139.65 226.85,138.42 227.22,137.34 227.58,136.43 227.94,135.68 228.31,135.11 228.68,134.73 229.04,134.54 229.41,134.53 229.77,134.72 230.13,135.09 230.5,135.64 230.87,136.36 231.23,137.24 231.6,138.27 231.96,139.44 232.32,140.74 232.69,142.14 233.06,143.64 233.42,145.23 233.78,146.88 234.15,148.59 234.52,150.33 234.88,152.11 235.25,153.9 235.61,155.7 235.97,157.49 236.34,159.28 236.7,161.04 237.07,162.78 237.44,164.48 237.8,166.15 238.16,167.78 238.53,169.36 238.89,170.9 239.26,172.39 239.62,173.83 239.99,175.21 240.36,176.55 240.72,177.83 241.09,179.07 241.45,180.25 241.81,181.38 242.18,182.46 242.55,183.5 242.91,184.48 243.28,185.42 243.64,186.32 244,187.17 244.37,187.98 244.73,188.75 245.1,189.48 245.47,190.18 245.83,190.83 246.19,191.46 246.56,192.05 246.93,192.6 247.29,193.13 247.65,193.63 248.02,194.1 248.38,194.54 248.75,194.96 249.12,195.35 249.48,195.72 249.84,196.06 250.21,196.39 250.57,196.69 250.94,196.98 251.3,197.25 251.67,197.5 252.03,197.73 252.4,197.95 252.77,198.15 253.13,198.34 253.5,198.51 253.86,198.67 254.22,198.82 254.59,198.95 254.95,199.08 255.32,199.19 255.69,199.29 256.05,199.39 256.41,199.47 256.78,199.55 257.14,199.61 257.51,199.67 257.88,199.72 258.24,199.77 258.61,199.8 258.97,199.83 259.34,199.86 259.7,199.87 260.06,199.89 260.43,199.89 260.79,199.89 261.16,199.89 261.52,199.88 261.89,199.87 262.25,199.85 262.62,199.83 262.99,199.81 263.35,199.78 263.72,199.75 264.08,199.72 264.44,199.68 264.81,199.64 265.18,199.59 265.54,199.55 265.9,199.5 266.27,199.45 266.63,199.39 267,199.34 267.37,199.28 267.73,199.22 268.1,199.16 268.46,199.09 268.82,199.03 269.19,198.96 269.55,198.89 269.92,198.82 270.28,198.75 270.65,198.68 271.01,198.61 271.38,198.53 271.75,198.45 272.11,198.38 272.48,198.3 272.84,198.22 273.2,198.14 273.57,198.06 273.94,197.97 274.3,197.89 274.66,197.81 275.03,197.72 275.39,197.64 275.76,197.55 276.12,197.47 276.49,197.38 276.86,197.29 277.22,197.2 277.59,197.11 277.95,197.03 278.31,196.94 278.68,196.85 279.04,196.76 279.41,196.66 279.77,196.57 280.14,196.48 280.5,196.39 280.87,196.3 281.24,196.2 281.6,196.11 281.97,196.02 282.33,195.92 282.69,195.83 283.06,195.74 283.43,195.64 283.79,195.55 284.15,195.45 284.52,195.36 284.88,195.26 285.25,195.17 285.62,195.07 285.98,194.98 286.35,194.88 286.71,194.79 287.07,194.69 287.44,194.59 287.81,194.5 288.17,194.4 288.53,194.3 288.9,194.21 289.26,194.11 289.63,194.01 290,193.92 290.36,193.82 290.73,193.72 291.09,193.63 291.46,193.53 291.82,193.43 292.19,193.33 292.55,193.24 292.91,193.14 293.28,193.04 293.64,192.94 294.01,192.85 294.38,192.75 294.74,192.65 295.11,192.55 295.47,192.46 295.84,192.36 296.2,192.26 296.56,192.16 296.93,192.06 297.29,191.97 297.66,191.87 298.02,191.77 298.39,191.67 298.75,191.57 299.12,191.47 299.49,191.38 299.85,191.28 300.22,191.18 300.58,191.08 300.94,190.98 301.31,190.88 301.68,190.79 302.04,190.69 302.4,190.59 302.77,190.49 303.13,190.39 303.5,190.29 303.5,190.3 157.5,229.8" fill="#ffffff"/>
<line x1="229.41" y1="134.53" x2="230.13" y2="135.09" stroke="#f0e840" stroke-width="0.7" stroke-opacity="0.8"/>
<line x1="230.13" y1="135.09" x2="230.87" y2="136.36" stroke="#f0e741" stroke-width="0.7" stroke-opacity="0.8"/>
<line x1="230.87" y1="136.36" x2="231.6" y2="138.27" stroke="#f0e643" stroke-width="0.7" stroke-opacity="0.8"/>
<line x1="231.6" y1="138.27" x2="232.32" y2="140.74" stroke="#f0e547" stroke-width="0.7" stroke-opacity="0.8"/>
<line x1="232.32" y1="140.74" x2="233.06" y2="143.64" stroke="#f1df51" stroke-width="0.7" stroke-opacity="0.8"/>
<line x1="233.06" y1="143.64" x2="233.78" y2="146.88" stroke="#f2d561" stroke-width="0.7" stroke-opacity="0.8"/>
<line x1="233.78" y1="146.88" x2="234.52" y2="150.33" stroke="#f4c770" stroke-width="0.7" stroke-opacity="0.8"/>
<line x1="234.52" y1="150.33" x2="235.25" y2="153.9" stroke="#eec871" stroke-width="0.7" stroke-opacity="0.8"/>
<line x1="235.25" y1="153.9" x2="235.97" y2="157.49" stroke="#dbce6c" stroke-width="0.7" stroke-opacity="0.8"/>
<line x1="235.97" y1="157.49" x2="236.7" y2="161.04" stroke="#bfcf70" stroke-width="0.7" stroke-opacity="0.8"/>
<line x1="236.7" y1="161.04" x2="237.44" y2="164.48" stroke="#a2cc7f" stroke-width="0.7" stroke-opacity="0.8"/>
<line x1="237.44" y1="164.48" x2="238.16" y2="167.78" stroke="#83c89d" stroke-width="0.7" stroke-opacity="0.8"/>
<line x1="238.16" y1="167.78" x2="238.89" y2="170.9" stroke="#6cc3b9" stroke-width="0.7" stroke-opacity="0.8"/>
<line x1="238.89" y1="170.9" x2="239.62" y2="173.83" stroke="#62c1ce" stroke-width="0.7" stroke-opacity="0.8"/>
<line x1="239.62" y1="173.83" x2="240.36" y2="176.55" stroke="#5fbbdb" stroke-width="0.7" stroke-opacity="0.8"/>
<line x1="240.36" y1="176.55" x2="241.09" y2="179.07" stroke="#62b0df" stroke-width="0.7" stroke-opacity="0.8"/>
<line x1="241.09" y1="179.07" x2="241.81" y2="181.38" stroke="#67a7e1" stroke-width="0.7" stroke-opacity="0.8"/>
<line x1="241.81" y1="181.38" x2="242.55" y2="183.5" stroke="#6e9fdc" stroke-width="0.7" stroke-opacity="0.8"/>
<line x1="242.55" y1="183.5" x2="243.28" y2="185.42" stroke="#7597d6" stroke-width="0.7" stroke-opacity="0.8"/>
<line x1="243.28" y1="185.42" x2="244" y2="187.17" stroke="#7992d1" stroke-width="0.7" stroke-opacity="0.8"/>
<line x1="244" y1="187.17" x2="244.73" y2="188.75" stroke="#798ecd" stroke-width="0.7" stroke-opacity="0.8"/>
<line x1="244.73" y1="188.75" x2="245.47" y2="190.18" stroke="#7a8ac9" stroke-width="0.7" stroke-opacity="0.8"/>
<line x1="245.47" y1="190.18" x2="246.19" y2="191.46" stroke="#7b87c6" stroke-width="0.7" stroke-opacity="0.8"/>
<line x1="246.19" y1="191.46" x2="246.93" y2="192.6" stroke="#7c83c3" stroke-width="0.7" stroke-opacity="0.8"/>
<line x1="246.93" y1="192.6" x2="247.65" y2="193.63" stroke="#7c80c0" stroke-width="0.7" stroke-opacity="0.8"/>
<line x1="247.65" y1="193.63" x2="248.38" y2="194.54" stroke="#7d7dbe" stroke-width="0.7" stroke-opacity="0.8"/>
<line x1="248.38" y1="194.54" x2="249.12" y2="195.35" stroke="#7c7bbc" stroke-width="0.7" stroke-opacity="0.8"/>
<line x1="249.12" y1="195.35" x2="249.84" y2="196.06" stroke="#7c78ba" stroke-width="0.7" stroke-opacity="0.8"/>
<line x1="249.84" y1="196.06" x2="250.57" y2="196.69" stroke="#7b76b8" stroke-width="0.7" stroke-opacity="0.8"/>
<line x1="250.57" y1="196.69" x2="251.3" y2="197.25" stroke="#7a74b7" stroke-width="0.7" stroke-opacity="0.8"/>
<line x1="251.3" y1="197.25" x2="252.03" y2="197.73" stroke="#7971b5" stroke-width="0.7" stroke-opacity="0.8"/>
<line x1="252.03" y1="197.73" x2="252.77" y2="198.15" stroke="#776fb4" stroke-width="0.7" stroke-opacity="0.8"/>
<line x1="252.77" y1="198.15" x2="253.5" y2="198.51" stroke="#756db3" stroke-width="0.7" stroke-opacity="0.8"/>
<line x1="253.5" y1="198.51" x2="254.22" y2="198.82" stroke="#746bb2" stroke-width="0.7" stroke-opacity="0.8"/>
<line x1="254.22" y1="198.82" x2="254.95" y2="199.08" stroke="#7369b1" stroke-width="0.7" stroke-opacity="0.8"/>
<line x1="254.95" y1="199.08" x2="255.69" y2="199.29" stroke="#7167b0" stroke-width="0.7" stroke-opacity="0.8"/>
<line x1="255.69" y1="199.29" x2="256.41" y2="199.47" stroke="#6e64af" stroke-width="0.7" stroke-opacity="0.8"/>
<line x1="256.41" y1="199.47" x2="257.14" y2="199.61" stroke="#6c62ae" stroke-width="0.7" stroke-opacity="0.8"/>
<line x1="257.14" y1="199.61" x2="257.88" y2="199.72" stroke="#6a60ae" stroke-width="0.7" stroke-opacity="0.8"/>
<line x1="257.88" y1="199.72" x2="258.61" y2="199.8" stroke="#685ead" stroke-width="0.7" stroke-opacity="0.8"/>
<line x1="258.61" y1="199.8" x2="259.34" y2="199.86" stroke="#665cac" stroke-width="0.7" stroke-opacity="0.8"/>
<line x1="259.34" y1="199.86" x2="260.06" y2="199.89" stroke="#6359ab" stroke-width="0.7" stroke-opacity="0.8"/>
<line x1="260.06" y1="199.89" x2="260.79" y2="199.89" stroke="#6157a9" stroke-width="0.7" stroke-opacity="0.8"/>
<line x1="260.79" y1="199.89" x2="261.52" y2="199.88" stroke="#5f55a8" stroke-width="0.7" stroke-opacity="0.8"/>
<line x1="261.52" y1="199.88" x2="262.25" y2="199.85" stroke="#5d53a7" stroke-width="0.7" stroke-opacity="0.8"/>
<line x1="262.25" y1="199.85" x2="262.99" y2="199.81" stroke="#5b51a6" stroke-width="0.7" stroke-opacity="0.8"/>
<line x1="262.99" y1="199.81" x2="263.72" y2="199.75" stroke="#594fa5" stroke-width="0.7" stroke-opacity="0.8"/>
<line x1="263.72" y1="199.75" x2="264.44" y2="199.68" stroke="#574da4" stroke-width="0.7" stroke-opacity="0.8"/>
<line x1="264.44" y1="199.68" x2="265.18" y2="199.59" stroke="#554ba3" stroke-width="0.7" stroke-opacity="0.8"/>
<line x1="265.18" y1="199.59" x2="265.9" y2="199.5" stroke="#5349a1" stroke-width="0.7" stroke-opacity="0.8"/>
<line x1="265.9" y1="199.5" x2="266.63" y2="199.39" stroke="#5147a0" stroke-width="0.7" stroke-opacity="0.8"/>
<line x1="266.63" y1="199.39" x2="267.37" y2="199.28" stroke="#50469f" stroke-width="0.7" stroke-opacity="0.8"/>
<line x1="267.37" y1="199.28" x2="268.1" y2="199.16" stroke="#4f459e" stroke-width="0.7" stroke-opacity="0.8"/>
<line x1="43.2" y1="176.8" x2="43.2" y2="64.4" stroke="#2a2a2a" stroke-width="0.9"/>
<polyline points="43.2,176.8 157.5,229.8 303.5,190.3" fill="none" stroke="#2a2a2a" stroke-width="0.9" stroke-linejoin="miter"/>
<line x1="157.5" y1="229.8" x2="160.4" y2="231.15" stroke="#2a2a2a" stroke-width="0.9"/>
<line x1="194" y1="219.93" x2="196.9" y2="221.27" stroke="#2a2a2a" stroke-width="0.9"/>
<line x1="230.5" y1="210.05" x2="233.4" y2="211.4" stroke="#2a2a2a" stroke-width="0.9"/>
<line x1="267" y1="200.18" x2="269.9" y2="201.52" stroke="#2a2a2a" stroke-width="0.9"/>
<line x1="303.5" y1="190.3" x2="306.4" y2="191.65" stroke="#2a2a2a" stroke-width="0.9"/>
<line x1="157.5" y1="229.8" x2="154.41" y2="230.64" stroke="#2a2a2a" stroke-width="0.9"/>
<line x1="121.44" y1="213.08" x2="118.35" y2="213.92" stroke="#2a2a2a" stroke-width="0.9"/>
<line x1="85.39" y1="196.36" x2="82.3" y2="197.2" stroke="#2a2a2a" stroke-width="0.9"/>
<line x1="49.33" y1="179.64" x2="46.24" y2="180.48" stroke="#2a2a2a" stroke-width="0.9"/>
<line x1="43.2" y1="176.8" x2="40.3" y2="175.45" stroke="#2a2a2a" stroke-width="0.9"/>
<line x1="43.2" y1="139.33" x2="40.3" y2="137.99" stroke="#2a2a2a" stroke-width="0.9"/>
<line x1="43.2" y1="101.87" x2="40.3" y2="100.52" stroke="#2a2a2a" stroke-width="0.9"/>
<line x1="43.2" y1="64.4" x2="40.3" y2="63.05" stroke="#2a2a2a" stroke-width="0.9"/>
<text x="0.5" y="13.9" font-family="'Liberation Serif', serif" font-size="18.8" font-weight="bold" text-anchor="start" fill="#111">(a)</text>
<text x="172" y="19.8" font-family="'Liberation Sans', sans-serif" font-size="11.35" font-weight="bold" text-anchor="middle" fill="#111">Temporal waveform</text>
<text x="36.5" y="66.6" font-family="'Liberation Sans', sans-serif" font-size="10" font-weight="normal" text-anchor="end" fill="#262626">1.5</text>
<text x="36.5" y="105.2" font-family="'Liberation Sans', sans-serif" font-size="10" font-weight="normal" text-anchor="end" fill="#262626">1</text>
<text x="36.5" y="142.5" font-family="'Liberation Sans', sans-serif" font-size="10" font-weight="normal" text-anchor="end" fill="#262626">0.5</text>
<text x="36.5" y="179.8" font-family="'Liberation Sans', sans-serif" font-size="10" font-weight="normal" text-anchor="end" fill="#262626">0</text>
<text x="37.5" y="193.35" font-family="'Liberation Sans', sans-serif" font-size="10" font-weight="normal" text-anchor="middle" fill="#262626">3</text>
<text x="73" y="209.6" font-family="'Liberation Sans', sans-serif" font-size="10" font-weight="normal" text-anchor="middle" fill="#262626">2</text>
<text x="108.75" y="226.6" font-family="'Liberation Sans', sans-serif" font-size="10" font-weight="normal" text-anchor="middle" fill="#262626">1</text>
<text x="144.5" y="242.6" font-family="'Liberation Sans', sans-serif" font-size="10" font-weight="normal" text-anchor="middle" fill="#262626">0</text>
<text x="170.5" y="243.6" font-family="'Liberation Sans', sans-serif" font-size="10" font-weight="normal" text-anchor="middle" fill="#262626">-10</text>
<text x="203.25" y="234.6" font-family="'Liberation Sans', sans-serif" font-size="10" font-weight="normal" text-anchor="middle" fill="#262626">-5</text>
<text x="238.75" y="223.85" font-family="'Liberation Sans', sans-serif" font-size="10" font-weight="normal" text-anchor="middle" fill="#262626">0</text>
<text x="275" y="214.1" font-family="'Liberation Sans', sans-serif" font-size="10" font-weight="normal" text-anchor="middle" fill="#262626">5</text>
<text x="314.5" y="204.1" font-family="'Liberation Sans', sans-serif" font-size="10" font-weight="normal" text-anchor="middle" fill="#262626">10</text>
<text x="91.25" y="246.2" font-family="'Liberation Serif', serif" font-size="11.5" font-weight="bold" text-anchor="middle" fill="#262626">Z(a.u.)</text>
<text x="243.25" y="248.2" font-family="'Liberation Serif', serif" font-size="11.5" font-weight="bold" text-anchor="middle" fill="#262626">T(a.u.)</text>
<text x="16.7" y="121.5" font-family="'Liberation Serif', serif" font-size="11.5" font-weight="bold" text-anchor="middle" fill="#262626" transform="rotate(-90 16.7 121.5)">Intensity</text>
<line x1="406.75" y1="437.18" x2="406.75" y2="324.68" stroke="#d6d6d6" stroke-width="0.75"/>
<line x1="443.3" y1="427.15" x2="443.3" y2="314.65" stroke="#d6d6d6" stroke-width="0.75"/>
<line x1="479.85" y1="417.12" x2="479.85" y2="304.62" stroke="#d6d6d6" stroke-width="0.75"/>
<line x1="593.89" y1="443.04" x2="593.89" y2="330.54" stroke="#d6d6d6" stroke-width="0.75"/>
<line x1="558.18" y1="426.48" x2="558.18" y2="313.98" stroke="#d6d6d6" stroke-width="0.75"/>
<line x1="522.47" y1="409.92" x2="522.47" y2="297.42" stroke="#d6d6d6" stroke-width="0.75"/>
<polyline points="370.2,409.7 516.4,369.6 629.6,422.1" fill="none" stroke="#d6d6d6" stroke-width="0.75"/>
<polyline points="370.2,372.2 516.4,332.1 629.6,384.6" fill="none" stroke="#d6d6d6" stroke-width="0.75"/>
<line x1="516.4" y1="407.1" x2="516.4" y2="294.6" stroke="#2a2a2a" stroke-width="0.9"/>
<line x1="370.2" y1="334.7" x2="516.4" y2="294.6" stroke="#2a2a2a" stroke-width="0.9"/>
<line x1="516.4" y1="294.6" x2="629.6" y2="347.1" stroke="#2a2a2a" stroke-width="0.9"/>
<line x1="629.6" y1="459.6" x2="629.6" y2="347.1" stroke="#2a2a2a" stroke-width="0.9"/>
<polygon points="370.2,447.2 483.4,499.7 629.6,459.6 516.4,407.1" fill="#433b98"/>
<polygon points="483.4,499.69 483.77,499.59 484.13,499.49 484.5,499.39 484.86,499.29 485.23,499.19 485.59,499.09 485.96,498.99 486.32,498.89 486.69,498.79 487.05,498.69 487.42,498.58 487.79,498.48 488.15,498.38 488.52,498.28 488.88,498.18 489.25,498.08 489.61,497.98 489.98,497.88 490.34,497.78 490.71,497.68 491.08,497.57 491.44,497.47 491.81,497.37 492.17,497.27 492.54,497.17 492.9,497.07 493.27,496.97 493.63,496.86 494,496.76 494.37,496.66 494.73,496.56 495.1,496.46 495.46,496.35 495.83,496.25 496.19,496.15 496.56,496.05 496.92,495.95 497.29,495.84 497.65,495.74 498.02,495.64 498.39,495.53 498.75,495.43 499.12,495.33 499.48,495.22 499.85,495.12 500.21,495.02 500.58,494.91 500.94,494.81 501.31,494.7 501.68,494.6 502.04,494.5 502.41,494.39 502.77,494.29 503.14,494.18 503.5,494.07 503.87,493.97 504.23,493.86 504.6,493.76 504.96,493.65 505.33,493.54 505.7,493.43 506.06,493.33 506.43,493.22 506.79,493.11 507.16,493 507.52,492.89 507.89,492.78 508.25,492.67 508.62,492.56 508.99,492.45 509.35,492.33 509.72,492.22 510.08,492.11 510.45,491.99 510.81,491.88 511.18,491.76 511.54,491.64 511.91,491.53 512.27,491.41 512.64,491.29 513.01,491.17 513.37,491.05 513.74,490.93 514.1,490.8 514.47,490.68 514.83,490.55 515.2,490.42 515.56,490.29 515.93,490.16 516.29,490.03 516.66,489.9 517.03,489.76 517.39,489.63 517.76,489.49 518.12,489.35 518.49,489.21 518.85,489.06 519.22,488.91 519.58,488.76 519.95,488.61 520.32,488.46 520.68,488.3 521.05,488.14 521.41,487.98 521.78,487.81 522.14,487.64 522.51,487.47 522.87,487.29 523.24,487.11 523.61,486.92 523.97,486.73 524.34,486.54 524.7,486.34 525.07,486.13 525.43,485.92 525.8,485.71 526.16,485.49 526.53,485.26 526.89,485.02 527.26,484.78 527.63,484.53 527.99,484.28 528.36,484.02 528.72,483.74 529.09,483.46 529.45,483.17 529.82,482.87 530.18,482.56 530.55,482.24 530.91,481.91 531.28,481.57 531.65,481.21 532.01,480.84 532.38,480.46 532.74,480.06 533.11,479.65 533.47,479.22 533.84,478.78 534.2,478.32 534.57,477.84 534.94,477.34 535.3,476.82 535.67,476.28 536.03,475.71 536.4,475.13 536.76,474.52 537.13,473.88 537.49,473.22 537.86,472.53 538.23,471.81 538.59,471.07 538.96,470.29 539.32,469.47 539.69,468.63 540.05,467.74 540.42,466.82 540.78,465.86 541.15,464.87 541.51,463.83 541.88,462.74 542.25,461.62 542.61,460.44 542.98,459.22 543.34,457.96 543.71,456.64 544.07,455.28 544.44,453.86 544.8,452.39 545.17,450.88 545.53,449.31 545.9,447.69 546.27,446.02 546.63,444.3 547,442.54 547.36,440.73 547.73,438.89 548.09,437.01 548.46,435.09 548.82,433.15 549.19,431.19 549.56,429.22 549.92,427.25 550.29,425.28 550.65,423.32 551.02,421.4 551.38,419.52 551.75,417.69 552.11,415.92 552.48,414.24 552.85,412.65 553.21,411.18 553.58,409.82 553.94,408.6 554.31,407.54 554.67,406.63 555.04,405.89 555.4,405.32 555.77,404.94 556.13,404.75 556.5,404.74 443.81,352.1 443.45,352.11 443.08,352.3 442.72,352.68 442.35,353.25 441.98,353.99 441.62,354.9 441.25,355.96 440.89,357.18 440.52,358.54 440.16,360.01 439.79,361.6 439.43,363.28 439.06,365.05 438.69,366.88 438.33,368.76 437.96,370.68 437.6,372.64 437.23,374.61 436.87,376.58 436.5,378.55 436.14,380.51 435.77,382.45 435.41,384.37 435.04,386.25 434.67,388.09 434.31,389.9 433.94,391.66 433.58,393.38 433.21,395.05 432.85,396.67 432.48,398.24 432.12,399.75 431.75,401.22 431.38,402.64 431.02,404 430.65,405.32 430.29,406.58 429.92,407.8 429.56,408.98 429.19,410.1 428.83,411.18 428.46,412.22 428.1,413.22 427.73,414.18 427.36,415.1 427,415.98 426.63,416.83 426.27,417.65 425.9,418.43 425.54,419.17 425.17,419.89 424.81,420.58 424.44,421.24 424.07,421.88 423.71,422.49 423.34,423.07 422.98,423.64 422.61,424.18 422.25,424.7 421.88,425.2 421.52,425.68 421.15,426.14 420.79,426.58 420.42,427.01 420.05,427.42 419.69,427.82 419.32,428.2 418.96,428.57 418.59,428.93 418.23,429.27 417.86,429.6 417.5,429.92 417.13,430.23 416.76,430.53 416.4,430.82 416.03,431.1 415.67,431.37 415.3,431.64 414.94,431.89 414.57,432.14 414.21,432.38 413.84,432.62 413.48,432.85 413.11,433.07 412.74,433.28 412.38,433.49 412.01,433.7 411.65,433.9 411.28,434.09 410.92,434.28 410.55,434.47 410.19,434.65 409.82,434.83 409.45,435 409.09,435.17 408.72,435.34 408.36,435.5 407.99,435.66 407.63,435.82 407.26,435.97 406.9,436.12 406.53,436.27 406.17,436.42 405.8,436.57 405.43,436.71 405.07,436.85 404.7,436.99 404.34,437.12 403.97,437.26 403.61,437.39 403.24,437.52 402.88,437.65 402.51,437.78 402.14,437.91 401.78,438.04 401.41,438.16 401.05,438.28 400.68,438.41 400.32,438.53 399.95,438.65 399.59,438.77 399.22,438.89 398.86,439 398.49,439.12 398.12,439.24 397.76,439.35 397.39,439.47 397.03,439.58 396.66,439.69 396.3,439.81 395.93,439.92 395.57,440.03 395.2,440.14 394.83,440.25 394.47,440.36 394.1,440.47 393.74,440.58 393.37,440.69 393.01,440.79 392.64,440.9 392.28,441.01 391.91,441.12 391.55,441.22 391.18,441.33 390.81,441.43 390.45,441.54 390.08,441.65 389.72,441.75 389.35,441.86 388.99,441.96 388.62,442.06 388.26,442.17 387.89,442.27 387.52,442.38 387.16,442.48 386.79,442.58 386.43,442.69 386.06,442.79 385.7,442.89 385.33,443 384.97,443.1 384.6,443.2 384.24,443.3 383.87,443.41 383.5,443.51 383.14,443.61 382.77,443.71 382.41,443.82 382.04,443.92 381.68,444.02 381.31,444.12 380.95,444.22 380.58,444.33 380.21,444.43 379.85,444.53 379.48,444.63 379.12,444.73 378.75,444.83 378.39,444.93 378.02,445.04 377.66,445.14 377.29,445.24 376.93,445.34 376.56,445.44 376.19,445.54 375.83,445.64 375.46,445.74 375.1,445.84 374.73,445.94 374.37,446.05 374,446.15 373.64,446.25 373.27,446.35 372.9,446.45 372.54,446.55 372.17,446.65 371.81,446.75 371.44,446.85 371.08,446.95 370.71,447.05" fill="url(#g2)"/>
<polygon points="483.4,499.69 483.77,499.59 484.13,499.49 484.5,499.39 484.86,499.29 485.23,499.19 485.59,499.09 485.96,498.99 486.32,498.89 486.69,498.79 487.05,498.69 487.42,498.58 487.79,498.48 488.15,498.38 488.52,498.28 488.88,498.18 489.25,498.08 489.61,497.98 489.98,497.88 490.34,497.78 490.71,497.68 491.08,497.57 491.44,497.47 491.81,497.37 492.17,497.27 492.54,497.17 492.9,497.07 493.27,496.97 493.63,496.86 494,496.76 494.37,496.66 494.73,496.56 495.1,496.46 495.46,496.35 495.83,496.25 496.19,496.15 496.56,496.05 496.92,495.95 497.29,495.84 497.65,495.74 498.02,495.64 498.39,495.53 498.75,495.43 499.12,495.33 499.48,495.22 499.85,495.12 500.21,495.02 500.58,494.91 500.94,494.81 501.31,494.7 501.68,494.6 502.04,494.5 502.41,494.39 502.77,494.29 503.14,494.18 503.5,494.07 503.87,493.97 504.23,493.86 504.6,493.76 504.96,493.65 505.33,493.54 505.7,493.43 506.06,493.33 506.43,493.22 506.79,493.11 507.16,493 507.52,492.89 507.89,492.78 508.25,492.67 508.62,492.56 508.99,492.45 509.35,492.33 509.72,492.22 510.08,492.11 510.45,491.99 510.81,491.88 511.18,491.76 511.54,491.64 511.91,491.53 512.27,491.41 512.64,491.29 513.01,491.17 513.37,491.05 513.74,490.93 514.1,490.8 514.47,490.68 514.83,490.55 515.2,490.42 515.56,490.29 515.93,490.16 516.29,490.03 516.66,489.9 517.03,489.76 517.39,489.63 517.76,489.49 518.12,489.35 518.49,489.21 518.85,489.06 519.22,488.91 519.58,488.76 519.95,488.61 520.32,488.46 520.68,488.3 521.05,488.14 521.41,487.98 521.78,487.81 522.14,487.64 522.51,487.47 522.87,487.29 523.24,487.11 523.61,486.92 523.97,486.73 524.34,486.54 524.7,486.34 525.07,486.13 525.43,485.92 525.8,485.71 526.16,485.49 526.53,485.26 526.89,485.02 527.26,484.78 527.63,484.53 527.99,484.28 528.36,484.02 528.72,483.74 529.09,483.46 529.45,483.17 529.82,482.87 530.18,482.56 530.55,482.24 530.91,481.91 531.28,481.57 531.65,481.21 532.01,480.84 532.38,480.46 532.74,480.06 533.11,479.65 533.47,479.22 533.84,478.78 534.2,478.32 534.57,477.84 534.94,477.34 535.3,476.82 535.67,476.28 536.03,475.71 536.4,475.13 536.76,474.52 537.13,473.88 537.49,473.22 537.86,472.53 538.23,471.81 538.59,471.07 538.96,470.29 539.32,469.47 539.69,468.63 540.05,467.74 540.42,466.82 540.78,465.86 541.15,464.87 541.51,463.83 541.88,462.74 542.25,461.62 542.61,460.44 542.98,459.22 543.34,457.96 543.71,456.64 544.07,455.28 544.44,453.86 544.8,452.39 545.17,450.88 545.53,449.31 545.9,447.69 546.27,446.02 546.63,444.3 547,442.54 547.36,440.73 547.73,438.89 548.09,437.01 548.46,435.09 548.82,433.15 549.19,431.19 549.56,429.22 549.92,427.25 550.29,425.28 550.65,423.32 551.02,421.4 551.38,419.52 551.75,417.69 552.11,415.92 552.48,414.24 552.85,412.65 553.21,411.18 553.58,409.82 553.94,408.6 554.31,407.54 554.67,406.63 555.04,405.89 555.4,405.32 555.77,404.94 556.13,404.75 556.5,404.74 443.81,352.1 443.45,352.11 443.08,352.3 442.72,352.68 442.35,353.25 441.98,353.99 441.62,354.9 441.25,355.96 440.89,357.18 440.52,358.54 440.16,360.01 439.79,361.6 439.43,363.28 439.06,365.05 438.69,366.88 438.33,368.76 437.96,370.68 437.6,372.64 437.23,374.61 436.87,376.58 436.5,378.55 436.14,380.51 435.77,382.45 435.41,384.37 435.04,386.25 434.67,388.09 434.31,389.9 433.94,391.66 433.58,393.38 433.21,395.05 432.85,396.67 432.48,398.24 432.12,399.75 431.75,401.22 431.38,402.64 431.02,404 430.65,405.32 430.29,406.58 429.92,407.8 429.56,408.98 429.19,410.1 428.83,411.18 428.46,412.22 428.1,413.22 427.73,414.18 427.36,415.1 427,415.98 426.63,416.83 426.27,417.65 425.9,418.43 425.54,419.17 425.17,419.89 424.81,420.58 424.44,421.24 424.07,421.88 423.71,422.49 423.34,423.07 422.98,423.64 422.61,424.18 422.25,424.7 421.88,425.2 421.52,425.68 421.15,426.14 420.79,426.58 420.42,427.01 420.05,427.42 419.69,427.82 419.32,428.2 418.96,428.57 418.59,428.93 418.23,429.27 417.86,429.6 417.5,429.92 417.13,430.23 416.76,430.53 416.4,430.82 416.03,431.1 415.67,431.37 415.3,431.64 414.94,431.89 414.57,432.14 414.21,432.38 413.84,432.62 413.48,432.85 413.11,433.07 412.74,433.28 412.38,433.49 412.01,433.7 411.65,433.9 411.28,434.09 410.92,434.28 410.55,434.47 410.19,434.65 409.82,434.83 409.45,435 409.09,435.17 408.72,435.34 408.36,435.5 407.99,435.66 407.63,435.82 407.26,435.97 406.9,436.12 406.53,436.27 406.17,436.42 405.8,436.57 405.43,436.71 405.07,436.85 404.7,436.99 404.34,437.12 403.97,437.26 403.61,437.39 403.24,437.52 402.88,437.65 402.51,437.78 402.14,437.91 401.78,438.04 401.41,438.16 401.05,438.28 400.68,438.41 400.32,438.53 399.95,438.65 399.59,438.77 399.22,438.89 398.86,439 398.49,439.12 398.12,439.24 397.76,439.35 397.39,439.47 397.03,439.58 396.66,439.69 396.3,439.81 395.93,439.92 395.57,440.03 395.2,440.14 394.83,440.25 394.47,440.36 394.1,440.47 393.74,440.58 393.37,440.69 393.01,440.79 392.64,440.9 392.28,441.01 391.91,441.12 391.55,441.22 391.18,441.33 390.81,441.43 390.45,441.54 390.08,441.65 389.72,441.75 389.35,441.86 388.99,441.96 388.62,442.06 388.26,442.17 387.89,442.27 387.52,442.38 387.16,442.48 386.79,442.58 386.43,442.69 386.06,442.79 385.7,442.89 385.33,443 384.97,443.1 384.6,443.2 384.24,443.3 383.87,443.41 383.5,443.51 383.14,443.61 382.77,443.71 382.41,443.82 382.04,443.92 381.68,444.02 381.31,444.12 380.95,444.22 380.58,444.33 380.21,444.43 379.85,444.53 379.48,444.63 379.12,444.73 378.75,444.83 378.39,444.93 378.02,445.04 377.66,445.14 377.29,445.24 376.93,445.34 376.56,445.44 376.19,445.54 375.83,445.64 375.46,445.74 375.1,445.84 374.73,445.94 374.37,446.05 374,446.15 373.64,446.25 373.27,446.35 372.9,446.45 372.54,446.55 372.17,446.65 371.81,446.75 371.44,446.85 371.08,446.95 370.71,447.05" fill="url(#w2)" mask="url(#mk2)"/>
<polygon points="483.4,499.69 483.77,499.59 484.13,499.49 484.5,499.39 484.86,499.29 485.23,499.19 485.59,499.09 485.96,498.99 486.32,498.89 486.69,498.79 487.05,498.69 487.42,498.58 487.79,498.48 488.15,498.38 488.52,498.28 488.88,498.18 489.25,498.08 489.61,497.98 489.98,497.88 490.34,497.78 490.71,497.68 491.08,497.57 491.44,497.47 491.81,497.37 492.17,497.27 492.54,497.17 492.9,497.07 493.27,496.97 493.63,496.86 494,496.76 494.37,496.66 494.73,496.56 495.1,496.46 495.46,496.35 495.83,496.25 496.19,496.15 496.56,496.05 496.92,495.95 497.29,495.84 497.65,495.74 498.02,495.64 498.39,495.53 498.75,495.43 499.12,495.33 499.48,495.22 499.85,495.12 500.21,495.02 500.58,494.91 500.94,494.81 501.31,494.7 501.68,494.6 502.04,494.5 502.41,494.39 502.77,494.29 503.14,494.18 503.5,494.07 503.87,493.97 504.23,493.86 504.6,493.76 504.96,493.65 505.33,493.54 505.7,493.43 506.06,493.33 506.43,493.22 506.79,493.11 507.16,493 507.52,492.89 507.89,492.78 508.25,492.67 508.62,492.56 508.99,492.45 509.35,492.33 509.72,492.22 510.08,492.11 510.45,491.99 510.81,491.88 511.18,491.76 511.54,491.64 511.91,491.53 512.27,491.41 512.64,491.29 513.01,491.17 513.37,491.05 513.74,490.93 514.1,490.8 514.47,490.68 514.83,490.55 515.2,490.42 515.56,490.29 515.93,490.16 516.29,490.03 516.66,489.9 517.03,489.76 517.39,489.63 517.76,489.49 518.12,489.35 518.49,489.21 518.85,489.06 519.22,488.91 519.58,488.76 519.95,488.61 520.32,488.46 520.68,488.3 521.05,488.14 521.41,487.98 521.78,487.81 522.14,487.64 522.51,487.47 522.87,487.29 523.24,487.11 523.61,486.92 523.97,486.73 524.34,486.54 524.7,486.34 525.07,486.13 525.43,485.92 525.8,485.71 526.16,485.49 526.53,485.26 526.89,485.02 527.26,484.78 527.63,484.53 527.99,484.28 528.36,484.02 528.72,483.74 529.09,483.46 529.45,483.17 529.82,482.87 530.18,482.56 530.55,482.24 530.91,481.91 531.28,481.57 531.65,481.21 532.01,480.84 532.38,480.46 532.74,480.06 533.11,479.65 533.47,479.22 533.84,478.78 534.2,478.32 534.57,477.84 534.94,477.34 535.3,476.82 535.67,476.28 536.03,475.71 536.4,475.13 536.76,474.52 537.13,473.88 537.49,473.22 537.86,472.53 538.23,471.81 538.59,471.07 538.96,470.29 539.32,469.47 539.69,468.63 540.05,467.74 540.42,466.82 540.78,465.86 541.15,464.87 541.51,463.83 541.88,462.74 542.25,461.62 542.61,460.44 542.98,459.22 543.34,457.96 543.71,456.64 544.07,455.28 544.44,453.86 544.8,452.39 545.17,450.88 545.53,449.31 545.9,447.69 546.27,446.02 546.63,444.3 547,442.54 547.36,440.73 547.73,438.89 548.09,437.01 548.46,435.09 548.82,433.15 549.19,431.19 549.56,429.22 549.92,427.25 550.29,425.28 550.65,423.32 551.02,421.4 551.38,419.52 551.75,417.69 552.11,415.92 552.48,414.24 552.85,412.65 553.21,411.18 553.58,409.82 553.94,408.6 554.31,407.54 554.67,406.63 555.04,405.89 555.4,405.32 555.77,404.94 556.13,404.75 556.5,404.74 556.87,404.92 557.23,405.29 557.6,405.82 557.96,406.53 558.33,407.4 558.69,408.42 559.06,409.57 559.42,410.85 559.79,412.24 560.15,413.72 560.52,415.28 560.89,416.91 561.25,418.59 561.62,420.32 561.98,422.07 562.35,423.84 562.71,425.61 563.08,427.38 563.44,429.14 563.81,430.88 564.18,432.59 564.54,434.28 564.91,435.92 565.27,437.53 565.64,439.09 566,440.61 566.37,442.07 566.73,443.49 567.1,444.86 567.47,446.18 567.83,447.44 568.2,448.66 568.56,449.82 568.93,450.94 569.29,452.01 569.66,453.02 570.02,454 570.39,454.92 570.75,455.81 571.12,456.64 571.49,457.44 571.85,458.2 572.22,458.92 572.58,459.6 572.95,460.25 573.31,460.86 573.68,461.44 574.04,461.99 574.41,462.51 574.77,463 575.14,463.46 575.51,463.89 575.87,464.3 576.24,464.69 576.6,465.05 576.97,465.39 577.33,465.71 577.7,466.01 578.06,466.29 578.43,466.55 578.8,466.79 579.16,467.02 579.53,467.23 579.89,467.43 580.26,467.61 580.62,467.78 580.99,467.93 581.35,468.08 581.72,468.21 582.09,468.33 582.45,468.44 582.82,468.54 583.18,468.63 583.55,468.71 583.91,468.78 584.28,468.84 584.64,468.9 585.01,468.94 585.37,468.98 585.74,469.02 586.11,469.04 586.47,469.07 586.84,469.08 587.2,469.09 587.57,469.09 587.93,469.09 588.3,469.09 588.66,469.08 589.03,469.06 589.39,469.04 589.76,469.02 590.13,468.99 590.49,468.96 590.86,468.93 591.22,468.89 591.59,468.85 591.95,468.81 592.32,468.76 592.68,468.71 593.05,468.66 593.42,468.61 593.78,468.55 594.15,468.5 594.51,468.44 594.88,468.38 595.24,468.31 595.61,468.25 595.97,468.18 596.34,468.11 596.71,468.04 597.07,467.97 597.44,467.89 597.8,467.82 598.17,467.74 598.53,467.67 598.9,467.59 599.26,467.51 599.63,467.43 599.99,467.35 600.36,467.27 600.73,467.18 601.09,467.1 601.46,467.01 601.82,466.93 602.19,466.84 602.55,466.76 602.92,466.67 603.28,466.58 603.65,466.49 604.01,466.4 604.38,466.31 604.75,466.22 605.11,466.13 605.48,466.04 605.84,465.95 606.21,465.86 606.57,465.76 606.94,465.67 607.3,465.58 607.67,465.48 608.04,465.39 608.4,465.3 608.77,465.2 609.13,465.11 609.5,465.01 609.86,464.92 610.23,464.82 610.59,464.73 610.96,464.63 611.33,464.53 611.69,464.44 612.06,464.34 612.42,464.24 612.79,464.15 613.15,464.05 613.52,463.95 613.88,463.86 614.25,463.76 614.61,463.66 614.98,463.56 615.35,463.46 615.71,463.37 616.08,463.27 616.44,463.17 616.81,463.07 617.17,462.97 617.54,462.87 617.9,462.78 618.27,462.68 618.63,462.58 619,462.48 619.37,462.38 619.73,462.28 620.1,462.18 620.46,462.08 620.83,461.98 621.19,461.89 621.56,461.79 621.92,461.69 622.29,461.59 622.66,461.49 623.02,461.39 623.39,461.29 623.75,461.19 624.12,461.09 624.48,460.99 624.85,460.89 625.21,460.79 625.58,460.69 625.95,460.59 626.31,460.49 626.68,460.39 627.04,460.29 627.41,460.19 627.77,460.09 628.14,459.99 628.5,459.89 628.87,459.79 629.23,459.69 629.6,459.59 629.6,459.6 483.4,499.7" fill="#ffffff"/>
<line x1="556.5" y1="404.74" x2="557.23" y2="405.29" stroke="#f0e840" stroke-width="0.7" stroke-opacity="0.8"/>
<line x1="557.23" y1="405.29" x2="557.96" y2="406.53" stroke="#f0e741" stroke-width="0.7" stroke-opacity="0.8"/>
<line x1="557.96" y1="406.53" x2="558.69" y2="408.42" stroke="#f0e643" stroke-width="0.7" stroke-opacity="0.8"/>
<line x1="558.69" y1="408.42" x2="559.42" y2="410.85" stroke="#f0e547" stroke-width="0.7" stroke-opacity="0.8"/>
<line x1="559.42" y1="410.85" x2="560.15" y2="413.72" stroke="#f1df51" stroke-width="0.7" stroke-opacity="0.8"/>
<line x1="560.15" y1="413.72" x2="560.89" y2="416.91" stroke="#f2d561" stroke-width="0.7" stroke-opacity="0.8"/>
<line x1="560.89" y1="416.91" x2="561.62" y2="420.32" stroke="#f4c770" stroke-width="0.7" stroke-opacity="0.8"/>
<line x1="561.62" y1="420.32" x2="562.35" y2="423.84" stroke="#eec871" stroke-width="0.7" stroke-opacity="0.8"/>
<line x1="562.35" y1="423.84" x2="563.08" y2="427.38" stroke="#dbce6c" stroke-width="0.7" stroke-opacity="0.8"/>
<line x1="563.08" y1="427.38" x2="563.81" y2="430.88" stroke="#bfcf70" stroke-width="0.7" stroke-opacity="0.8"/>
<line x1="563.81" y1="430.88" x2="564.54" y2="434.28" stroke="#a2cc7f" stroke-width="0.7" stroke-opacity="0.8"/>
<line x1="564.54" y1="434.28" x2="565.27" y2="437.53" stroke="#83c89d" stroke-width="0.7" stroke-opacity="0.8"/>
<line x1="565.27" y1="437.53" x2="566" y2="440.61" stroke="#6cc3b9" stroke-width="0.7" stroke-opacity="0.8"/>
<line x1="566" y1="440.61" x2="566.73" y2="443.49" stroke="#62c1ce" stroke-width="0.7" stroke-opacity="0.8"/>
<line x1="566.73" y1="443.49" x2="567.47" y2="446.18" stroke="#5fbbdb" stroke-width="0.7" stroke-opacity="0.8"/>
<line x1="567.47" y1="446.18" x2="568.2" y2="448.66" stroke="#62b0df" stroke-width="0.7" stroke-opacity="0.8"/>
<line x1="568.2" y1="448.66" x2="568.93" y2="450.94" stroke="#67a7e1" stroke-width="0.7" stroke-opacity="0.8"/>
<line x1="568.93" y1="450.94" x2="569.66" y2="453.02" stroke="#6e9fdc" stroke-width="0.7" stroke-opacity="0.8"/>
<line x1="569.66" y1="453.02" x2="570.39" y2="454.92" stroke="#7597d6" stroke-width="0.7" stroke-opacity="0.8"/>
<line x1="570.39" y1="454.92" x2="571.12" y2="456.64" stroke="#7992d1" stroke-width="0.7" stroke-opacity="0.8"/>
<line x1="571.12" y1="456.64" x2="571.85" y2="458.2" stroke="#798ecd" stroke-width="0.7" stroke-opacity="0.8"/>
<line x1="571.85" y1="458.2" x2="572.58" y2="459.6" stroke="#7a8ac9" stroke-width="0.7" stroke-opacity="0.8"/>
<line x1="572.58" y1="459.6" x2="573.31" y2="460.86" stroke="#7b87c6" stroke-width="0.7" stroke-opacity="0.8"/>
<line x1="573.31" y1="460.86" x2="574.04" y2="461.99" stroke="#7c83c3" stroke-width="0.7" stroke-opacity="0.8"/>
<line x1="574.04" y1="461.99" x2="574.77" y2="463" stroke="#7c80c0" stroke-width="0.7" stroke-opacity="0.8"/>
<line x1="574.77" y1="463" x2="575.51" y2="463.89" stroke="#7d7dbe" stroke-width="0.7" stroke-opacity="0.8"/>
<line x1="575.51" y1="463.89" x2="576.24" y2="464.69" stroke="#7c7bbc" stroke-width="0.7" stroke-opacity="0.8"/>
<line x1="576.24" y1="464.69" x2="576.97" y2="465.39" stroke="#7c78ba" stroke-width="0.7" stroke-opacity="0.8"/>
<line x1="576.97" y1="465.39" x2="577.7" y2="466.01" stroke="#7b76b8" stroke-width="0.7" stroke-opacity="0.8"/>
<line x1="577.7" y1="466.01" x2="578.43" y2="466.55" stroke="#7a74b7" stroke-width="0.7" stroke-opacity="0.8"/>
<line x1="578.43" y1="466.55" x2="579.16" y2="467.02" stroke="#7971b5" stroke-width="0.7" stroke-opacity="0.8"/>
<line x1="579.16" y1="467.02" x2="579.89" y2="467.43" stroke="#776fb4" stroke-width="0.7" stroke-opacity="0.8"/>
<line x1="579.89" y1="467.43" x2="580.62" y2="467.78" stroke="#756db3" stroke-width="0.7" stroke-opacity="0.8"/>
<line x1="580.62" y1="467.78" x2="581.35" y2="468.08" stroke="#746bb2" stroke-width="0.7" stroke-opacity="0.8"/>
<line x1="581.35" y1="468.08" x2="582.09" y2="468.33" stroke="#7369b1" stroke-width="0.7" stroke-opacity="0.8"/>
<line x1="582.09" y1="468.33" x2="582.82" y2="468.54" stroke="#7167b0" stroke-width="0.7" stroke-opacity="0.8"/>
<line x1="582.82" y1="468.54" x2="583.55" y2="468.71" stroke="#6e64af" stroke-width="0.7" stroke-opacity="0.8"/>
<line x1="583.55" y1="468.71" x2="584.28" y2="468.84" stroke="#6c62ae" stroke-width="0.7" stroke-opacity="0.8"/>
<line x1="584.28" y1="468.84" x2="585.01" y2="468.94" stroke="#6a60ae" stroke-width="0.7" stroke-opacity="0.8"/>
<line x1="585.01" y1="468.94" x2="585.74" y2="469.02" stroke="#685ead" stroke-width="0.7" stroke-opacity="0.8"/>
<line x1="585.74" y1="469.02" x2="586.47" y2="469.07" stroke="#665cac" stroke-width="0.7" stroke-opacity="0.8"/>
<line x1="586.47" y1="469.07" x2="587.2" y2="469.09" stroke="#6359ab" stroke-width="0.7" stroke-opacity="0.8"/>
<line x1="587.2" y1="469.09" x2="587.93" y2="469.09" stroke="#6157a9" stroke-width="0.7" stroke-opacity="0.8"/>
<line x1="587.93" y1="469.09" x2="588.66" y2="469.08" stroke="#5f55a8" stroke-width="0.7" stroke-opacity="0.8"/>
<line x1="588.66" y1="469.08" x2="589.39" y2="469.04" stroke="#5d53a7" stroke-width="0.7" stroke-opacity="0.8"/>
<line x1="589.39" y1="469.04" x2="590.13" y2="468.99" stroke="#5b51a6" stroke-width="0.7" stroke-opacity="0.8"/>
<line x1="590.13" y1="468.99" x2="590.86" y2="468.93" stroke="#594fa5" stroke-width="0.7" stroke-opacity="0.8"/>
<line x1="590.86" y1="468.93" x2="591.59" y2="468.85" stroke="#574da4" stroke-width="0.7" stroke-opacity="0.8"/>
<line x1="591.59" y1="468.85" x2="592.32" y2="468.76" stroke="#554ba3" stroke-width="0.7" stroke-opacity="0.8"/>
<line x1="592.32" y1="468.76" x2="593.05" y2="468.66" stroke="#5349a1" stroke-width="0.7" stroke-opacity="0.8"/>
<line x1="593.05" y1="468.66" x2="593.78" y2="468.55" stroke="#5147a0" stroke-width="0.7" stroke-opacity="0.8"/>
<line x1="593.78" y1="468.55" x2="594.51" y2="468.44" stroke="#50469f" stroke-width="0.7" stroke-opacity="0.8"/>
<line x1="594.51" y1="468.44" x2="595.24" y2="468.31" stroke="#4f459e" stroke-width="0.7" stroke-opacity="0.8"/>
<line x1="370.2" y1="447.2" x2="370.2" y2="334.7" stroke="#2a2a2a" stroke-width="0.9"/>
<polyline points="370.2,447.2 483.4,499.7 629.6,459.6" fill="none" stroke="#2a2a2a" stroke-width="0.9" stroke-linejoin="miter"/>
<line x1="483.4" y1="499.7" x2="486.3" y2="501.05" stroke="#2a2a2a" stroke-width="0.9"/>
<line x1="519.95" y1="489.68" x2="522.85" y2="491.02" stroke="#2a2a2a" stroke-width="0.9"/>
<line x1="556.5" y1="479.65" x2="559.4" y2="481" stroke="#2a2a2a" stroke-width="0.9"/>
<line x1="593.05" y1="469.62" x2="595.95" y2="470.97" stroke="#2a2a2a" stroke-width="0.9"/>
<line x1="629.6" y1="459.6" x2="632.5" y2="460.95" stroke="#2a2a2a" stroke-width="0.9"/>
<line x1="483.4" y1="499.7" x2="480.31" y2="500.55" stroke="#2a2a2a" stroke-width="0.9"/>
<line x1="447.69" y1="483.14" x2="444.6" y2="483.98" stroke="#2a2a2a" stroke-width="0.9"/>
<line x1="411.98" y1="466.58" x2="408.89" y2="467.42" stroke="#2a2a2a" stroke-width="0.9"/>
<line x1="376.27" y1="450.02" x2="373.18" y2="450.86" stroke="#2a2a2a" stroke-width="0.9"/>
<line x1="370.2" y1="447.2" x2="367.3" y2="445.85" stroke="#2a2a2a" stroke-width="0.9"/>
<line x1="370.2" y1="409.7" x2="367.3" y2="408.35" stroke="#2a2a2a" stroke-width="0.9"/>
<line x1="370.2" y1="372.2" x2="367.3" y2="370.85" stroke="#2a2a2a" stroke-width="0.9"/>
<line x1="370.2" y1="334.7" x2="367.3" y2="333.35" stroke="#2a2a2a" stroke-width="0.9"/>
<text x="329.5" y="276.1" font-family="'Liberation Serif', serif" font-size="18.8" font-weight="bold" text-anchor="start" fill="#111">(d)</text>
<text x="500" y="289.6" font-family="'Liberation Sans', sans-serif" font-size="11.35" font-weight="bold" text-anchor="middle" fill="#111">Temporal waveform</text>
<text x="363" y="337" font-family="'Liberation Sans', sans-serif" font-size="10" font-weight="normal" text-anchor="end" fill="#262626">1.5</text>
<text x="363" y="375" font-family="'Liberation Sans', sans-serif" font-size="10" font-weight="normal" text-anchor="end" fill="#262626">1</text>
<text x="363" y="412.6" font-family="'Liberation Sans', sans-serif" font-size="10" font-weight="normal" text-anchor="end" fill="#262626">0.5</text>
<text x="363" y="449.9" font-family="'Liberation Sans', sans-serif" font-size="10" font-weight="normal" text-anchor="end" fill="#262626">0</text>
<text x="364.5" y="463.2" font-family="'Liberation Sans', sans-serif" font-size="10" font-weight="normal" text-anchor="middle" fill="#262626">3</text>
<text x="399.8" y="480" font-family="'Liberation Sans', sans-serif" font-size="10" font-weight="normal" text-anchor="middle" fill="#262626">2</text>
<text x="435.9" y="496.5" font-family="'Liberation Sans', sans-serif" font-size="10" font-weight="normal" text-anchor="middle" fill="#262626">1</text>
<text x="471.7" y="512.6" font-family="'Liberation Sans', sans-serif" font-size="10" font-weight="normal" text-anchor="middle" fill="#262626">0</text>
<text x="496" y="513.2" font-family="'Liberation Sans', sans-serif" font-size="10" font-weight="normal" text-anchor="middle" fill="#262626">-10</text>
<text x="530.5" y="504.5" font-family="'Liberation Sans', sans-serif" font-size="10" font-weight="normal" text-anchor="middle" fill="#262626">-5</text>
<text x="565.6" y="494" font-family="'Liberation Sans', sans-serif" font-size="10" font-weight="normal" text-anchor="middle" fill="#262626">0</text>
<text x="601.9" y="483.7" font-family="'Liberation Sans', sans-serif" font-size="10" font-weight="normal" text-anchor="middle" fill="#262626">5</text>
<text x="641.7" y="474.5" font-family="'Liberation Sans', sans-serif" font-size="10" font-weight="normal" text-anchor="middle" fill="#262626">10</text>
<text x="417.9" y="518.6" font-family="'Liberation Serif', serif" font-size="11.5" font-weight="bold" text-anchor="middle" fill="#262626">Z(a.u.)</text>
<text x="570.4" y="520.3" font-family="'Liberation Serif', serif" font-size="11.5" font-weight="bold" text-anchor="middle" fill="#262626">T(a.u.)</text>
<text x="343.4" y="391.3" font-family="'Liberation Serif', serif" font-size="11.5" font-weight="bold" text-anchor="middle" fill="#262626" transform="rotate(-90 343.4 391.3)">Intensity</text>
<line x1="498.8" y1="151.4" x2="498.8" y2="35.8" stroke="#4a4a4a" stroke-width="0.65"/>
<line x1="368" y1="74.7" x2="498.8" y2="35.8" stroke="#4a4a4a" stroke-width="0.65"/>
<line x1="498.8" y1="35.8" x2="602.4" y2="83.7" stroke="#4a4a4a" stroke-width="0.65"/>
<line x1="602.4" y1="199.3" x2="602.4" y2="83.7" stroke="#4a4a4a" stroke-width="0.65"/>
<polygon points="368,190.3 471.6,238.2 602.4,199.3 498.8,151.4" fill="#433b98"/>
<line x1="535.79" y1="219.11" x2="433.22" y2="171.69" stroke="#4a7fc0" stroke-width="4.6" stroke-opacity="0.35"/>
<line x1="535.79" y1="219.11" x2="433.22" y2="171.69" stroke="#52a0c4" stroke-width="3.4" stroke-opacity="0.55"/>
<line x1="535.79" y1="219.11" x2="433.22" y2="171.69" stroke="#7fc6a0" stroke-width="2.4" stroke-opacity="0.85"/>
<line x1="535.79" y1="219.11" x2="433.22" y2="171.69" stroke="#d8e050" stroke-width="1.35"/>
<line x1="535.79" y1="219.11" x2="433.22" y2="171.69" stroke="#f6ee3c" stroke-width="0.85"/>
<line x1="368" y1="190.3" x2="368" y2="74.7" stroke="#2e2e2e" stroke-width="0.8"/>
<polyline points="368,190.3 471.6,238.2 602.4,199.3" fill="none" stroke="#2e2e2e" stroke-width="0.8" stroke-linejoin="miter"/>
<line x1="496.63" y1="230.76" x2="499.35" y2="232.02" stroke="#2a2a2a" stroke-width="0.55"/>
<line x1="537" y1="218.75" x2="539.72" y2="220.01" stroke="#2a2a2a" stroke-width="0.55"/>
<line x1="577.37" y1="206.74" x2="580.09" y2="208" stroke="#2a2a2a" stroke-width="0.55"/>
<line x1="471.6" y1="238.2" x2="468.72" y2="239.06" stroke="#2a2a2a" stroke-width="0.55"/>
<line x1="438.18" y1="222.75" x2="435.31" y2="223.6" stroke="#2a2a2a" stroke-width="0.55"/>
<line x1="404.76" y1="207.3" x2="401.89" y2="208.15" stroke="#2a2a2a" stroke-width="0.55"/>
<line x1="371.34" y1="191.85" x2="368.47" y2="192.7" stroke="#2a2a2a" stroke-width="0.55"/>
<line x1="368" y1="190.3" x2="365.28" y2="189.04" stroke="#2a2a2a" stroke-width="0.55"/>
<line x1="368" y1="132.5" x2="365.28" y2="131.24" stroke="#2a2a2a" stroke-width="0.55"/>
<line x1="368" y1="74.7" x2="365.28" y2="73.44" stroke="#2a2a2a" stroke-width="0.55"/>
<line x1="537" y1="160.95" x2="433.4" y2="113.05" stroke="#c5532b" stroke-width="6.3" stroke-linecap="butt"/>
<polygon points="537,157.25 537.87,159.75 540.52,159.81 538.41,161.41 539.17,163.94 537,162.43 534.83,163.94 535.59,161.41 533.48,159.81 536.13,159.75" fill="#c5532b" stroke="#c5532b" stroke-width="0.7" stroke-linejoin="miter"/>
<polygon points="433.4,109.35 434.27,111.85 436.92,111.91 434.81,113.51 435.57,116.04 433.4,114.53 431.23,116.04 431.99,113.51 429.88,111.91 432.53,111.85" fill="#c5532b" stroke="#c5532b" stroke-width="0.7" stroke-linejoin="miter"/>
<text x="329.1" y="13.9" font-family="'Liberation Serif', serif" font-size="18.8" font-weight="bold" text-anchor="start" fill="#111">(b)</text>
<text x="485.5" y="31.3" font-family="'Liberation Sans', sans-serif" font-size="11.35" font-weight="bold" text-anchor="middle" fill="#111">Nonlinear spectrum</text>
<text x="362" y="75.6" font-family="'Liberation Sans', sans-serif" font-size="10" font-weight="normal" text-anchor="end" fill="#262626">1</text>
<text x="362" y="134" font-family="'Liberation Sans', sans-serif" font-size="10" font-weight="normal" text-anchor="end" fill="#262626">0.5</text>
<text x="362" y="192.6" font-family="'Liberation Sans', sans-serif" font-size="10" font-weight="normal" text-anchor="end" fill="#262626">0</text>
<text x="363.3" y="206" font-family="'Liberation Sans', sans-serif" font-size="10" font-weight="normal" text-anchor="middle" fill="#262626">3</text>
<text x="396" y="221" font-family="'Liberation Sans', sans-serif" font-size="10" font-weight="normal" text-anchor="middle" fill="#262626">2</text>
<text x="429" y="236.6" font-family="'Liberation Sans', sans-serif" font-size="10" font-weight="normal" text-anchor="middle" fill="#262626">1</text>
<text x="462.2" y="251" font-family="'Liberation Sans', sans-serif" font-size="10" font-weight="normal" text-anchor="middle" fill="#262626">0</text>
<text x="510.5" y="244.8" font-family="'Liberation Sans', sans-serif" font-size="10" font-weight="normal" text-anchor="middle" fill="#262626">-10</text>
<text x="546" y="233.6" font-family="'Liberation Sans', sans-serif" font-size="10" font-weight="normal" text-anchor="middle" fill="#262626">0</text>
<text x="590" y="221.6" font-family="'Liberation Sans', sans-serif" font-size="10" font-weight="normal" text-anchor="middle" fill="#262626">10</text>
<text x="410.4" y="254.6" font-family="'Liberation Serif', serif" font-size="11.5" font-weight="bold" text-anchor="middle" fill="#262626">Z(a.u.)</text>
<text x="548.6" y="257" font-family="'Liberation Serif', serif" font-size="11.5" font-weight="bold" text-anchor="middle" fill="#262626">Re(&#955;)</text>
<text x="342.2" y="132.9" font-family="'Liberation Serif', serif" font-size="11.5" font-weight="bold" text-anchor="middle" fill="#262626" transform="rotate(-90 342.2 132.9)">Im(&#955;)</text>
<rect x="624.6" y="36.4" width="16.4" height="201.8" fill="url(#cb)" stroke="#555" stroke-width="0.5"/>
<line x1="638.8" y1="40" x2="641" y2="40" stroke="#333" stroke-width="0.5"/>
<text x="644.6" y="44.1" font-family="'Liberation Sans', sans-serif" font-size="10" font-weight="normal" text-anchor="start" fill="#262626">3</text>
<line x1="638.8" y1="73.9" x2="641" y2="73.9" stroke="#333" stroke-width="0.5"/>
<text x="644.6" y="78" font-family="'Liberation Sans', sans-serif" font-size="10" font-weight="normal" text-anchor="start" fill="#262626">2.5</text>
<line x1="638.8" y1="107.2" x2="641" y2="107.2" stroke="#333" stroke-width="0.5"/>
<text x="644.6" y="111.3" font-family="'Liberation Sans', sans-serif" font-size="10" font-weight="normal" text-anchor="start" fill="#262626">2</text>
<line x1="638.8" y1="140.3" x2="641" y2="140.3" stroke="#333" stroke-width="0.5"/>
<text x="644.6" y="144.4" font-family="'Liberation Sans', sans-serif" font-size="10" font-weight="normal" text-anchor="start" fill="#262626">1.5</text>
<line x1="638.8" y1="173" x2="641" y2="173" stroke="#333" stroke-width="0.5"/>
<text x="644.6" y="177.1" font-family="'Liberation Sans', sans-serif" font-size="10" font-weight="normal" text-anchor="start" fill="#262626">1</text>
<line x1="638.8" y1="206.1" x2="641" y2="206.1" stroke="#333" stroke-width="0.5"/>
<text x="644.6" y="210.2" font-family="'Liberation Sans', sans-serif" font-size="10" font-weight="normal" text-anchor="start" fill="#262626">0.5</text>
<text x="642.3" y="32.2" font-family="'Liberation Sans', sans-serif" font-size="10" fill="#262626">&#215;<tspan dx="1.8">10</tspan><tspan dy="-3.8" font-size="7.4">-3</tspan></text>
<line x1="44.8" y1="442.1" x2="189.6" y2="405" stroke="#4a4a4a" stroke-width="0.65"/>
<line x1="189.6" y1="405" x2="301.7" y2="453.3" stroke="#4a4a4a" stroke-width="0.65"/>
<line x1="189.6" y1="405" x2="189.6" y2="298" stroke="#4a4a4a" stroke-width="0.65"/>
<line x1="44.8" y1="335.1" x2="189.6" y2="298" stroke="#4a4a4a" stroke-width="0.65"/>
<line x1="189.6" y1="298" x2="301.7" y2="346.3" stroke="#4a4a4a" stroke-width="0.65"/>
<line x1="301.7" y1="453.3" x2="301.7" y2="346.3" stroke="#4a4a4a" stroke-width="0.65"/>
<polyline points="121.5,419.27 126.71,419.45 131.87,419.66 137,419.83 142.07,419.96 147.11,420.05 152.1,420.08 157.05,420.06 161.95,420.05 166.81,420.03 171.62,419.98 176.4,419.87 181.13,419.69 185.81,419.5 190.45,419.31 195.05,419.09 199.6,418.76 204.11,418.3 208.58,417.77 213,417.14 217.38,416.4 221.72,415.6 226.01,414.77 230.26,413.91 234.46,413.04 238.62,412.18 242.74,411.33 246.82,410.49 250.85,409.66 254.83,408.84 258.77,408.05 262.67,407.27 266.53,406.5 270.34,405.77 274.11,405.09 277.83,404.44 281.51,403.8 285.15,403.16 288.74,402.52 292.29,401.92 295.8,401.47" fill="none" stroke="#c5532b" stroke-width="2.0" stroke-linejoin="round"/>
<polygon points="121.5,415.67 122.35,418.11 124.92,418.16 122.87,419.72 123.62,422.18 121.5,420.71 119.38,422.18 120.13,419.72 118.08,418.16 120.65,418.11" fill="#c5532b" stroke="#c5532b" stroke-width="0.5" stroke-linejoin="miter"/>
<polygon points="126.71,415.85 127.56,418.28 130.13,418.33 128.08,419.89 128.82,422.36 126.71,420.89 124.59,422.36 125.34,419.89 123.29,418.33 125.86,418.28" fill="#c5532b" stroke="#c5532b" stroke-width="0.5" stroke-linejoin="miter"/>
<polygon points="131.87,416.06 132.72,418.49 135.3,418.55 133.24,420.1 133.99,422.57 131.87,421.1 129.76,422.57 130.5,420.1 128.45,418.55 131.03,418.49" fill="#c5532b" stroke="#c5532b" stroke-width="0.5" stroke-linejoin="miter"/>
<polygon points="137,416.23 137.84,418.67 140.42,418.72 138.37,420.28 139.11,422.75 137,421.27 134.88,422.75 135.63,420.28 133.57,418.72 136.15,418.67" fill="#c5532b" stroke="#c5532b" stroke-width="0.5" stroke-linejoin="miter"/>
<polygon points="142.07,416.36 142.92,418.8 145.5,418.85 143.44,420.41 144.19,422.88 142.07,421.4 139.96,422.88 140.7,420.41 138.65,418.85 141.23,418.8" fill="#c5532b" stroke="#c5532b" stroke-width="0.5" stroke-linejoin="miter"/>
<polygon points="147.11,416.45 147.95,418.89 150.53,418.94 148.48,420.5 149.22,422.96 147.11,421.49 144.99,422.96 145.74,420.5 143.68,418.94 146.26,418.89" fill="#c5532b" stroke="#c5532b" stroke-width="0.5" stroke-linejoin="miter"/>
<polygon points="152.1,416.48 152.95,418.91 155.52,418.97 153.47,420.52 154.21,422.99 152.1,421.52 149.98,422.99 150.73,420.52 148.68,418.97 151.25,418.91" fill="#c5532b" stroke="#c5532b" stroke-width="0.5" stroke-linejoin="miter"/>
<polygon points="157.05,416.46 157.89,418.9 160.47,418.95 158.42,420.51 159.16,422.98 157.05,421.5 154.93,422.98 155.68,420.51 153.62,418.95 156.2,418.9" fill="#c5532b" stroke="#c5532b" stroke-width="0.5" stroke-linejoin="miter"/>
<polygon points="161.95,416.45 162.8,418.88 165.37,418.93 163.32,420.49 164.07,422.96 161.95,421.49 159.83,422.96 160.58,420.49 158.53,418.93 161.1,418.88" fill="#c5532b" stroke="#c5532b" stroke-width="0.5" stroke-linejoin="miter"/>
<polygon points="166.81,416.43 167.66,418.86 170.23,418.91 168.18,420.47 168.92,422.94 166.81,421.47 164.69,422.94 165.44,420.47 163.38,418.91 165.96,418.86" fill="#c5532b" stroke="#c5532b" stroke-width="0.5" stroke-linejoin="miter"/>
<polygon points="171.62,416.38 172.47,418.81 175.05,418.87 172.99,420.42 173.74,422.89 171.62,421.42 169.51,422.89 170.26,420.42 168.2,418.87 170.78,418.81" fill="#c5532b" stroke="#c5532b" stroke-width="0.5" stroke-linejoin="miter"/>
<polygon points="176.4,416.27 177.24,418.7 179.82,418.75 177.77,420.31 178.51,422.78 176.4,421.31 174.28,422.78 175.03,420.31 172.97,418.75 175.55,418.7" fill="#c5532b" stroke="#c5532b" stroke-width="0.5" stroke-linejoin="miter"/>
<polygon points="181.13,416.09 181.97,418.52 184.55,418.57 182.5,420.13 183.24,422.6 181.13,421.13 179.01,422.6 179.76,420.13 177.7,418.57 180.28,418.52" fill="#c5532b" stroke="#c5532b" stroke-width="0.5" stroke-linejoin="miter"/>
<polygon points="185.81,415.9 186.66,418.33 189.23,418.38 187.18,419.94 187.93,422.41 185.81,420.94 183.69,422.41 184.44,419.94 182.39,418.38 184.96,418.33" fill="#c5532b" stroke="#c5532b" stroke-width="0.5" stroke-linejoin="miter"/>
<polygon points="190.45,415.71 191.3,418.14 193.88,418.19 191.82,419.75 192.57,422.22 190.45,420.75 188.34,422.22 189.08,419.75 187.03,418.19 189.61,418.14" fill="#c5532b" stroke="#c5532b" stroke-width="0.5" stroke-linejoin="miter"/>
<polygon points="195.05,415.49 195.9,417.93 198.47,417.98 196.42,419.54 197.17,422.01 195.05,420.53 192.93,422.01 193.68,419.54 191.63,417.98 194.2,417.93" fill="#c5532b" stroke="#c5532b" stroke-width="0.5" stroke-linejoin="miter"/>
<polygon points="199.6,415.16 200.45,417.59 203.03,417.65 200.97,419.2 201.72,421.67 199.6,420.2 197.49,421.67 198.23,419.2 196.18,417.65 198.76,417.59" fill="#c5532b" stroke="#c5532b" stroke-width="0.5" stroke-linejoin="miter"/>
<polygon points="204.11,414.7 204.96,417.14 207.54,417.19 205.48,418.75 206.23,421.21 204.11,419.74 202,421.21 202.74,418.75 200.69,417.19 203.27,417.14" fill="#c5532b" stroke="#c5532b" stroke-width="0.5" stroke-linejoin="miter"/>
<polygon points="208.58,414.17 209.43,416.61 212,416.66 209.95,418.22 210.7,420.68 208.58,419.21 206.46,420.68 207.21,418.22 205.16,416.66 207.73,416.61" fill="#c5532b" stroke="#c5532b" stroke-width="0.5" stroke-linejoin="miter"/>
<polygon points="213,413.54 213.85,415.98 216.43,416.03 214.37,417.59 215.12,420.06 213,418.58 210.89,420.06 211.63,417.59 209.58,416.03 212.16,415.98" fill="#c5532b" stroke="#c5532b" stroke-width="0.5" stroke-linejoin="miter"/>
<polygon points="217.38,412.8 218.23,415.24 220.81,415.29 218.75,416.85 219.5,419.31 217.38,417.84 215.27,419.31 216.01,416.85 213.96,415.29 216.54,415.24" fill="#c5532b" stroke="#c5532b" stroke-width="0.5" stroke-linejoin="miter"/>
<polygon points="221.72,412 222.57,414.43 225.14,414.49 223.09,416.04 223.83,418.51 221.72,417.04 219.6,418.51 220.35,416.04 218.29,414.49 220.87,414.43" fill="#c5532b" stroke="#c5532b" stroke-width="0.5" stroke-linejoin="miter"/>
<polygon points="226.01,411.17 226.86,413.6 229.43,413.66 227.38,415.21 228.13,417.68 226.01,416.21 223.89,417.68 224.64,415.21 222.59,413.66 225.16,413.6" fill="#c5532b" stroke="#c5532b" stroke-width="0.5" stroke-linejoin="miter"/>
<polygon points="230.26,410.31 231.11,412.75 233.68,412.8 231.63,414.36 232.38,416.82 230.26,415.35 228.14,416.82 228.89,414.36 226.84,412.8 229.41,412.75" fill="#c5532b" stroke="#c5532b" stroke-width="0.5" stroke-linejoin="miter"/>
<polygon points="234.46,409.44 235.31,411.88 237.89,411.93 235.83,413.49 236.58,415.96 234.46,414.48 232.35,415.96 233.09,413.49 231.04,411.93 233.62,411.88" fill="#c5532b" stroke="#c5532b" stroke-width="0.5" stroke-linejoin="miter"/>
<polygon points="238.62,408.58 239.47,411.02 242.05,411.07 239.99,412.63 240.74,415.1 238.62,413.62 236.51,415.1 237.26,412.63 235.2,411.07 237.78,411.02" fill="#c5532b" stroke="#c5532b" stroke-width="0.5" stroke-linejoin="miter"/>
<polygon points="242.74,407.73 243.59,410.17 246.17,410.22 244.11,411.78 244.86,414.25 242.74,412.77 240.63,414.25 241.37,411.78 239.32,410.22 241.9,410.17" fill="#c5532b" stroke="#c5532b" stroke-width="0.5" stroke-linejoin="miter"/>
<polygon points="246.82,406.89 247.66,409.33 250.24,409.38 248.19,410.94 248.93,413.4 246.82,411.93 244.7,413.4 245.45,410.94 243.39,409.38 245.97,409.33" fill="#c5532b" stroke="#c5532b" stroke-width="0.5" stroke-linejoin="miter"/>
<polygon points="250.85,406.06 251.69,408.49 254.27,408.55 252.22,410.1 252.96,412.57 250.85,411.1 248.73,412.57 249.48,410.1 247.42,408.55 250,408.49" fill="#c5532b" stroke="#c5532b" stroke-width="0.5" stroke-linejoin="miter"/>
<polygon points="254.83,405.24 255.68,407.68 258.26,407.73 256.2,409.29 256.95,411.76 254.83,410.28 252.72,411.76 253.46,409.29 251.41,407.73 253.99,407.68" fill="#c5532b" stroke="#c5532b" stroke-width="0.5" stroke-linejoin="miter"/>
<polygon points="258.77,404.45 259.62,406.88 262.2,406.93 260.14,408.49 260.89,410.96 258.77,409.49 256.66,410.96 257.41,408.49 255.35,406.93 257.93,406.88" fill="#c5532b" stroke="#c5532b" stroke-width="0.5" stroke-linejoin="miter"/>
<polygon points="262.67,403.67 263.52,406.1 266.1,406.15 264.04,407.71 264.79,410.18 262.67,408.71 260.56,410.18 261.3,407.71 259.25,406.15 261.83,406.1" fill="#c5532b" stroke="#c5532b" stroke-width="0.5" stroke-linejoin="miter"/>
<polygon points="266.53,402.9 267.38,405.34 269.95,405.39 267.9,406.95 268.65,409.41 266.53,407.94 264.41,409.41 265.16,406.95 263.11,405.39 265.68,405.34" fill="#c5532b" stroke="#c5532b" stroke-width="0.5" stroke-linejoin="miter"/>
<polygon points="270.34,402.17 271.19,404.61 273.76,404.66 271.71,406.22 272.46,408.69 270.34,407.21 268.22,408.69 268.97,406.22 266.92,404.66 269.49,404.61" fill="#c5532b" stroke="#c5532b" stroke-width="0.5" stroke-linejoin="miter"/>
<polygon points="274.11,401.49 274.96,403.93 277.53,403.98 275.48,405.54 276.22,408.01 274.11,406.53 271.99,408.01 272.74,405.54 270.69,403.98 273.26,403.93" fill="#c5532b" stroke="#c5532b" stroke-width="0.5" stroke-linejoin="miter"/>
<polygon points="277.83,400.84 278.68,403.28 281.26,403.33 279.2,404.89 279.95,407.35 277.83,405.88 275.72,407.35 276.46,404.89 274.41,403.33 276.99,403.28" fill="#c5532b" stroke="#c5532b" stroke-width="0.5" stroke-linejoin="miter"/>
<polygon points="281.51,400.2 282.36,402.64 284.94,402.69 282.88,404.25 283.63,406.71 281.51,405.24 279.4,406.71 280.14,404.25 278.09,402.69 280.67,402.64" fill="#c5532b" stroke="#c5532b" stroke-width="0.5" stroke-linejoin="miter"/>
<polygon points="285.15,399.56 286,402 288.57,402.05 286.52,403.61 287.27,406.07 285.15,404.6 283.03,406.07 283.78,403.61 281.73,402.05 284.3,402" fill="#c5532b" stroke="#c5532b" stroke-width="0.5" stroke-linejoin="miter"/>
<polygon points="288.74,398.92 289.59,401.35 292.17,401.4 290.11,402.96 290.86,405.43 288.74,403.96 286.63,405.43 287.37,402.96 285.32,401.4 287.9,401.35" fill="#c5532b" stroke="#c5532b" stroke-width="0.5" stroke-linejoin="miter"/>
<polygon points="292.29,398.32 293.14,400.76 295.72,400.81 293.66,402.37 294.41,404.83 292.29,403.36 290.18,404.83 290.92,402.37 288.87,400.81 291.45,400.76" fill="#c5532b" stroke="#c5532b" stroke-width="0.5" stroke-linejoin="miter"/>
<polygon points="295.8,397.87 296.65,400.3 299.22,400.35 297.17,401.91 297.92,404.38 295.8,402.91 293.68,404.38 294.43,401.91 292.38,400.35 294.95,400.3" fill="#c5532b" stroke="#c5532b" stroke-width="0.5" stroke-linejoin="miter"/>
<line x1="44.8" y1="442.1" x2="44.8" y2="335.1" stroke="#2e2e2e" stroke-width="0.8"/>
<polyline points="44.8,442.1 156.9,490.4 301.7,453.3" fill="none" stroke="#2e2e2e" stroke-width="0.8" stroke-linejoin="miter"/>
<line x1="164.37" y1="488.49" x2="167.12" y2="489.67" stroke="#2a2a2a" stroke-width="0.55"/>
<line x1="196.83" y1="480.17" x2="199.59" y2="481.36" stroke="#2a2a2a" stroke-width="0.55"/>
<line x1="229.3" y1="471.85" x2="232.06" y2="473.04" stroke="#2a2a2a" stroke-width="0.55"/>
<line x1="261.77" y1="463.53" x2="264.52" y2="464.72" stroke="#2a2a2a" stroke-width="0.55"/>
<line x1="294.23" y1="455.21" x2="296.99" y2="456.4" stroke="#2a2a2a" stroke-width="0.55"/>
<line x1="156.9" y1="490.4" x2="153.99" y2="491.14" stroke="#2a2a2a" stroke-width="0.55"/>
<line x1="120.74" y1="474.82" x2="117.83" y2="475.56" stroke="#2a2a2a" stroke-width="0.55"/>
<line x1="84.58" y1="459.24" x2="81.67" y2="459.98" stroke="#2a2a2a" stroke-width="0.55"/>
<line x1="48.42" y1="443.66" x2="45.51" y2="444.4" stroke="#2a2a2a" stroke-width="0.55"/>
<line x1="44.8" y1="435.7" x2="42.04" y2="434.51" stroke="#2a2a2a" stroke-width="0.55"/>
<line x1="44.8" y1="411.45" x2="42.04" y2="410.26" stroke="#2a2a2a" stroke-width="0.55"/>
<line x1="44.8" y1="387.19" x2="42.04" y2="386.01" stroke="#2a2a2a" stroke-width="0.55"/>
<line x1="44.8" y1="362.94" x2="42.04" y2="361.75" stroke="#2a2a2a" stroke-width="0.55"/>
<line x1="44.8" y1="338.69" x2="42.04" y2="337.5" stroke="#2a2a2a" stroke-width="0.55"/>
<text x="0.3" y="280" font-family="'Liberation Serif', serif" font-size="18.8" font-weight="bold" text-anchor="start" fill="#111">(c)</text>
<text x="174" y="290.8" font-family="'Liberation Serif', serif" font-size="13.7" font-weight="bold" text-anchor="middle" fill="#111">Discrete spectrum</text>
<text x="37.6" y="342.4" font-family="'Liberation Sans', sans-serif" font-size="10" font-weight="normal" text-anchor="end" fill="#262626">1</text>
<text x="37.6" y="366.6" font-family="'Liberation Sans', sans-serif" font-size="10" font-weight="normal" text-anchor="end" fill="#262626">0.5</text>
<text x="37.6" y="390.9" font-family="'Liberation Sans', sans-serif" font-size="10" font-weight="normal" text-anchor="end" fill="#262626">0</text>
<text x="37.6" y="415.3" font-family="'Liberation Sans', sans-serif" font-size="10" font-weight="normal" text-anchor="end" fill="#262626">-0.5</text>
<text x="37.6" y="439.6" font-family="'Liberation Sans', sans-serif" font-size="10" font-weight="normal" text-anchor="end" fill="#262626">-1</text>
<text x="38.3" y="456.9" font-family="'Liberation Sans', sans-serif" font-size="10" font-weight="normal" text-anchor="middle" fill="#262626">3</text>
<text x="73.9" y="472.7" font-family="'Liberation Sans', sans-serif" font-size="10" font-weight="normal" text-anchor="middle" fill="#262626">2</text>
<text x="109.4" y="488.7" font-family="'Liberation Sans', sans-serif" font-size="10" font-weight="normal" text-anchor="middle" fill="#262626">1</text>
<text x="145.2" y="503.8" font-family="'Liberation Sans', sans-serif" font-size="10" font-weight="normal" text-anchor="middle" fill="#262626">0</text>
<text x="173.3" y="503.3" font-family="'Liberation Sans', sans-serif" font-size="10" font-weight="normal" text-anchor="middle" fill="#262626">-1</text>
<text x="210.8" y="495" font-family="'Liberation Sans', sans-serif" font-size="10" font-weight="normal" text-anchor="middle" fill="#262626">-0.5</text>
<text x="238.4" y="485.7" font-family="'Liberation Sans', sans-serif" font-size="10" font-weight="normal" text-anchor="middle" fill="#262626">0</text>
<text x="275.2" y="477.5" font-family="'Liberation Sans', sans-serif" font-size="10" font-weight="normal" text-anchor="middle" fill="#262626">0.5</text>
<text x="304.2" y="469" font-family="'Liberation Sans', sans-serif" font-size="10" font-weight="normal" text-anchor="middle" fill="#262626">1</text>
<text x="91.9" y="506.8" font-family="'Liberation Serif', serif" font-size="11.5" font-weight="bold" text-anchor="middle" fill="#262626">Z(a.u.)</text>
<text x="250.4" y="510.6" font-family="'Liberation Serif', serif" font-size="11.5" font-weight="bold" text-anchor="middle" fill="#262626">Re[Q<tspan dy="3.2" font-size="9">d</tspan><tspan dy="-3.2">(&#955;)]</tspan></text>
<text x="10.6" y="389.2" font-family="'Liberation Serif', serif" font-size="11.5" font-weight="bold" text-anchor="middle" fill="#262626" transform="rotate(-90 10.6 389.2)">Im[Q<tspan dy="3.2" font-size="9">d</tspan><tspan dy="-3.2">(&#955;)]</tspan></text></svg>
</body></html>
